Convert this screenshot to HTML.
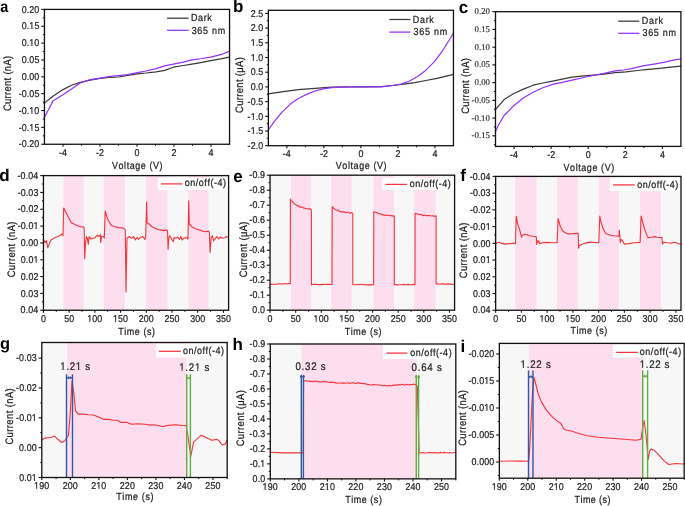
<!DOCTYPE html>
<html><head><meta charset="utf-8"><title>figure</title>
<style>html,body{margin:0;padding:0;background:#fff;overflow:hidden;} svg{display:block;will-change:transform;filter:blur(0.3px);} text{white-space:pre;text-rendering:geometricPrecision;font-kerning:none;font-variant-ligatures:none;}</style>
</head><body>
<svg width="685" height="506" viewBox="0 0 685 506">
<defs><mask id="m0" maskUnits="userSpaceOnUse" x="-20" y="-30" width="59.7" height="50"><rect x="-20" y="-30" width="59.7" height="50" fill="#fff"/><rect x="8.33" y="-1.04" width="2.58" height="2.04" fill="#000"/><rect x="11.90" y="-1.04" width="2.50" height="2.04" fill="#000"/></mask><mask id="m1" maskUnits="userSpaceOnUse" x="-20" y="-30" width="59.7" height="50"><rect x="-20" y="-30" width="59.7" height="50" fill="#fff"/><rect x="8.33" y="-1.04" width="2.58" height="2.04" fill="#000"/><rect x="11.90" y="-1.04" width="2.50" height="2.04" fill="#000"/></mask><mask id="m2" maskUnits="userSpaceOnUse" x="-20" y="-30" width="63.1" height="50"><rect x="-20" y="-30" width="63.1" height="50" fill="#fff"/><rect x="11.74" y="-1.04" width="2.58" height="2.04" fill="#000"/><rect x="15.31" y="-1.04" width="2.50" height="2.04" fill="#000"/></mask><mask id="m3" maskUnits="userSpaceOnUse" x="-20" y="-30" width="63.1" height="50"><rect x="-20" y="-30" width="63.1" height="50" fill="#fff"/><rect x="11.74" y="-1.04" width="2.58" height="2.04" fill="#000"/><rect x="15.31" y="-1.04" width="2.50" height="2.04" fill="#000"/></mask><mask id="m4" maskUnits="userSpaceOnUse" x="-20" y="-30" width="57.5" height="50"><rect x="-20" y="-30" width="57.5" height="50" fill="#fff"/><rect x="3.26" y="-1.04" width="2.58" height="2.04" fill="#000"/><rect x="6.83" y="-1.04" width="2.50" height="2.04" fill="#000"/></mask><mask id="m5" maskUnits="userSpaceOnUse" x="-20" y="-30" width="57.5" height="50"><rect x="-20" y="-30" width="57.5" height="50" fill="#fff"/><rect x="3.26" y="-1.04" width="2.58" height="2.04" fill="#000"/><rect x="6.83" y="-1.04" width="2.50" height="2.04" fill="#000"/></mask><mask id="m6" maskUnits="userSpaceOnUse" x="-20" y="-30" width="54.1" height="50"><rect x="-20" y="-30" width="54.1" height="50" fill="#fff"/><rect x="-0.15" y="-1.04" width="2.58" height="2.04" fill="#000"/><rect x="3.42" y="-1.04" width="2.50" height="2.04" fill="#000"/></mask><mask id="m7" maskUnits="userSpaceOnUse" x="-20" y="-30" width="54.1" height="50"><rect x="-20" y="-30" width="54.1" height="50" fill="#fff"/><rect x="-0.15" y="-1.04" width="2.58" height="2.04" fill="#000"/><rect x="3.42" y="-1.04" width="2.50" height="2.04" fill="#000"/></mask><mask id="m8" maskUnits="userSpaceOnUse" x="-20" y="-30" width="63.1" height="50"><rect x="-20" y="-30" width="63.1" height="50" fill="#fff"/><rect x="17.36" y="-1.04" width="2.58" height="2.04" fill="#000"/><rect x="20.93" y="-1.04" width="2.50" height="2.04" fill="#000"/></mask><mask id="m9" maskUnits="userSpaceOnUse" x="-20" y="-30" width="59.7" height="50"><rect x="-20" y="-30" width="59.7" height="50" fill="#fff"/><rect x="13.95" y="-1.04" width="2.58" height="2.04" fill="#000"/><rect x="17.52" y="-1.04" width="2.50" height="2.04" fill="#000"/></mask><mask id="m10" maskUnits="userSpaceOnUse" x="-20" y="-30" width="56.9" height="50"><rect x="-20" y="-30" width="56.9" height="50" fill="#fff"/><rect x="-0.15" y="-1.04" width="2.58" height="2.04" fill="#000"/><rect x="3.42" y="-1.04" width="2.50" height="2.04" fill="#000"/></mask><mask id="m11" maskUnits="userSpaceOnUse" x="-20" y="-30" width="56.9" height="50"><rect x="-20" y="-30" width="56.9" height="50" fill="#fff"/><rect x="-0.15" y="-1.04" width="2.58" height="2.04" fill="#000"/><rect x="3.42" y="-1.04" width="2.50" height="2.04" fill="#000"/></mask><mask id="m12" maskUnits="userSpaceOnUse" x="-20" y="-30" width="57.5" height="50"><rect x="-20" y="-30" width="57.5" height="50" fill="#fff"/><rect x="11.74" y="-1.04" width="2.58" height="2.04" fill="#000"/><rect x="15.31" y="-1.04" width="2.50" height="2.04" fill="#000"/></mask><mask id="m13" maskUnits="userSpaceOnUse" x="-20" y="-30" width="56.9" height="50"><rect x="-20" y="-30" width="56.9" height="50" fill="#fff"/><rect x="-0.15" y="-1.04" width="2.58" height="2.04" fill="#000"/><rect x="3.42" y="-1.04" width="2.50" height="2.04" fill="#000"/></mask><mask id="m14" maskUnits="userSpaceOnUse" x="-20" y="-30" width="56.9" height="50"><rect x="-20" y="-30" width="56.9" height="50" fill="#fff"/><rect x="-0.15" y="-1.04" width="2.58" height="2.04" fill="#000"/><rect x="3.42" y="-1.04" width="2.50" height="2.04" fill="#000"/></mask><mask id="m15" maskUnits="userSpaceOnUse" x="-20" y="-30" width="63.1" height="50"><rect x="-20" y="-30" width="63.1" height="50" fill="#fff"/><rect x="17.36" y="-1.04" width="2.58" height="2.04" fill="#000"/><rect x="20.93" y="-1.04" width="2.50" height="2.04" fill="#000"/></mask><mask id="m16" maskUnits="userSpaceOnUse" x="-20" y="-30" width="59.7" height="50"><rect x="-20" y="-30" width="59.7" height="50" fill="#fff"/><rect x="13.95" y="-1.04" width="2.58" height="2.04" fill="#000"/><rect x="17.52" y="-1.04" width="2.50" height="2.04" fill="#000"/></mask><mask id="m17" maskUnits="userSpaceOnUse" x="-20" y="-30" width="56.9" height="50"><rect x="-20" y="-30" width="56.9" height="50" fill="#fff"/><rect x="-0.15" y="-1.04" width="2.58" height="2.04" fill="#000"/><rect x="3.42" y="-1.04" width="2.50" height="2.04" fill="#000"/></mask><mask id="m18" maskUnits="userSpaceOnUse" x="-20" y="-30" width="56.9" height="50"><rect x="-20" y="-30" width="56.9" height="50" fill="#fff"/><rect x="-0.15" y="-1.04" width="2.58" height="2.04" fill="#000"/><rect x="3.42" y="-1.04" width="2.50" height="2.04" fill="#000"/></mask><mask id="m19" maskUnits="userSpaceOnUse" x="-20" y="-30" width="59.7" height="50"><rect x="-20" y="-30" width="59.7" height="50" fill="#fff"/><rect x="13.95" y="-1.04" width="2.58" height="2.04" fill="#000"/><rect x="17.52" y="-1.04" width="2.50" height="2.04" fill="#000"/></mask><mask id="m20" maskUnits="userSpaceOnUse" x="-20" y="-30" width="63.1" height="50"><rect x="-20" y="-30" width="63.1" height="50" fill="#fff"/><rect x="17.36" y="-1.04" width="2.58" height="2.04" fill="#000"/><rect x="20.93" y="-1.04" width="2.50" height="2.04" fill="#000"/></mask><mask id="m21" maskUnits="userSpaceOnUse" x="-20" y="-30" width="56.9" height="50"><rect x="-20" y="-30" width="56.9" height="50" fill="#fff"/><rect x="-0.15" y="-1.04" width="2.58" height="2.04" fill="#000"/><rect x="3.42" y="-1.04" width="2.50" height="2.04" fill="#000"/></mask><mask id="m22" maskUnits="userSpaceOnUse" x="-20" y="-30" width="56.9" height="50"><rect x="-20" y="-30" width="56.9" height="50" fill="#fff"/><rect x="5.47" y="-1.04" width="2.58" height="2.04" fill="#000"/><rect x="9.04" y="-1.04" width="2.50" height="2.04" fill="#000"/></mask><mask id="m23" maskUnits="userSpaceOnUse" x="-20" y="-30" width="74.7" height="50"><rect x="-20" y="-30" width="74.7" height="50" fill="#fff"/><rect x="-0.06" y="-1.12" width="2.77" height="2.12" fill="#000"/><rect x="3.80" y="-1.12" width="2.68" height="2.12" fill="#000"/><rect x="17.60" y="-1.12" width="2.77" height="2.12" fill="#000"/><rect x="21.46" y="-1.12" width="2.68" height="2.12" fill="#000"/></mask><mask id="m24" maskUnits="userSpaceOnUse" x="-20" y="-30" width="75.0" height="50"><rect x="-20" y="-30" width="75.0" height="50" fill="#fff"/><rect x="-0.06" y="-1.12" width="2.77" height="2.12" fill="#000"/><rect x="3.80" y="-1.12" width="2.68" height="2.12" fill="#000"/><rect x="17.74" y="-1.12" width="2.77" height="2.12" fill="#000"/><rect x="21.60" y="-1.12" width="2.68" height="2.12" fill="#000"/></mask><mask id="m25" maskUnits="userSpaceOnUse" x="-20" y="-30" width="57.5" height="50"><rect x="-20" y="-30" width="57.5" height="50" fill="#fff"/><rect x="11.74" y="-1.04" width="2.58" height="2.04" fill="#000"/><rect x="15.31" y="-1.04" width="2.50" height="2.04" fill="#000"/></mask><mask id="m26" maskUnits="userSpaceOnUse" x="-20" y="-30" width="56.9" height="50"><rect x="-20" y="-30" width="56.9" height="50" fill="#fff"/><rect x="-0.15" y="-1.04" width="2.58" height="2.04" fill="#000"/><rect x="3.42" y="-1.04" width="2.50" height="2.04" fill="#000"/></mask><mask id="m27" maskUnits="userSpaceOnUse" x="-20" y="-30" width="56.9" height="50"><rect x="-20" y="-30" width="56.9" height="50" fill="#fff"/><rect x="5.47" y="-1.04" width="2.58" height="2.04" fill="#000"/><rect x="9.04" y="-1.04" width="2.50" height="2.04" fill="#000"/></mask><mask id="m28" maskUnits="userSpaceOnUse" x="-20" y="-30" width="68.7" height="50"><rect x="-20" y="-30" width="68.7" height="50" fill="#fff"/><rect x="17.36" y="-1.04" width="2.58" height="2.04" fill="#000"/><rect x="20.93" y="-1.04" width="2.50" height="2.04" fill="#000"/></mask><mask id="m29" maskUnits="userSpaceOnUse" x="-20" y="-30" width="68.7" height="50"><rect x="-20" y="-30" width="68.7" height="50" fill="#fff"/><rect x="17.36" y="-1.04" width="2.58" height="2.04" fill="#000"/><rect x="20.93" y="-1.04" width="2.50" height="2.04" fill="#000"/></mask><mask id="m30" maskUnits="userSpaceOnUse" x="-20" y="-30" width="56.9" height="50"><rect x="-20" y="-30" width="56.9" height="50" fill="#fff"/><rect x="-0.15" y="-1.04" width="2.58" height="2.04" fill="#000"/><rect x="3.42" y="-1.04" width="2.50" height="2.04" fill="#000"/></mask><mask id="m31" maskUnits="userSpaceOnUse" x="-20" y="-30" width="56.9" height="50"><rect x="-20" y="-30" width="56.9" height="50" fill="#fff"/><rect x="5.47" y="-1.04" width="2.58" height="2.04" fill="#000"/><rect x="9.04" y="-1.04" width="2.50" height="2.04" fill="#000"/></mask><mask id="m32" maskUnits="userSpaceOnUse" x="-20" y="-30" width="75.4" height="50"><rect x="-20" y="-30" width="75.4" height="50" fill="#fff"/><rect x="-0.06" y="-1.12" width="2.77" height="2.12" fill="#000"/><rect x="3.80" y="-1.12" width="2.68" height="2.12" fill="#000"/></mask><mask id="m33" maskUnits="userSpaceOnUse" x="-20" y="-30" width="74.2" height="50"><rect x="-20" y="-30" width="74.2" height="50" fill="#fff"/><rect x="-0.06" y="-1.12" width="2.77" height="2.12" fill="#000"/><rect x="3.80" y="-1.12" width="2.68" height="2.12" fill="#000"/></mask></defs>
<rect width="685" height="506" fill="#fff"/>
<line x1="41.25" y1="9.40" x2="44.45" y2="9.40" stroke="#111111" stroke-width="1.1"/>
<line x1="41.25" y1="26.26" x2="44.45" y2="26.26" stroke="#111111" stroke-width="1.1"/>
<line x1="41.25" y1="43.11" x2="44.45" y2="43.11" stroke="#111111" stroke-width="1.1"/>
<line x1="41.25" y1="59.97" x2="44.45" y2="59.97" stroke="#111111" stroke-width="1.1"/>
<line x1="41.25" y1="76.83" x2="44.45" y2="76.83" stroke="#111111" stroke-width="1.1"/>
<line x1="41.25" y1="93.68" x2="44.45" y2="93.68" stroke="#111111" stroke-width="1.1"/>
<line x1="41.25" y1="110.54" x2="44.45" y2="110.54" stroke="#111111" stroke-width="1.1"/>
<line x1="41.25" y1="127.39" x2="44.45" y2="127.39" stroke="#111111" stroke-width="1.1"/>
<line x1="41.25" y1="144.25" x2="44.45" y2="144.25" stroke="#111111" stroke-width="1.1"/>
<line x1="42.85" y1="17.83" x2="44.45" y2="17.83" stroke="#111111" stroke-width="1.0"/>
<line x1="42.85" y1="34.68" x2="44.45" y2="34.68" stroke="#111111" stroke-width="1.0"/>
<line x1="42.85" y1="51.54" x2="44.45" y2="51.54" stroke="#111111" stroke-width="1.0"/>
<line x1="42.85" y1="68.40" x2="44.45" y2="68.40" stroke="#111111" stroke-width="1.0"/>
<line x1="42.85" y1="85.25" x2="44.45" y2="85.25" stroke="#111111" stroke-width="1.0"/>
<line x1="42.85" y1="102.11" x2="44.45" y2="102.11" stroke="#111111" stroke-width="1.0"/>
<line x1="42.85" y1="118.97" x2="44.45" y2="118.97" stroke="#111111" stroke-width="1.0"/>
<line x1="42.85" y1="135.82" x2="44.45" y2="135.82" stroke="#111111" stroke-width="1.0"/>
<text transform="translate(21.71,12.61) scale(0.900,1)" font-family='"Liberation Sans", sans-serif' font-size="9.9" font-weight="normal" fill="#1a1a1a" stroke="#1a1a1a" stroke-width="0.22" letter-spacing="0.111">0.20</text>
<text transform="translate(21.73,29.46) scale(0.900,1)" font-family='"Liberation Sans", sans-serif' font-size="9.9" font-weight="normal" fill="#1a1a1a" stroke="#1a1a1a" stroke-width="0.22" letter-spacing="0.111" mask="url(#m0)">0.15</text>
<text transform="translate(21.71,46.32) scale(0.900,1)" font-family='"Liberation Sans", sans-serif' font-size="9.9" font-weight="normal" fill="#1a1a1a" stroke="#1a1a1a" stroke-width="0.22" letter-spacing="0.111" mask="url(#m1)">0.10</text>
<text transform="translate(21.73,63.17) scale(0.900,1)" font-family='"Liberation Sans", sans-serif' font-size="9.9" font-weight="normal" fill="#1a1a1a" stroke="#1a1a1a" stroke-width="0.22" letter-spacing="0.111">0.05</text>
<text transform="translate(21.71,80.03) scale(0.900,1)" font-family='"Liberation Sans", sans-serif' font-size="9.9" font-weight="normal" fill="#1a1a1a" stroke="#1a1a1a" stroke-width="0.22" letter-spacing="0.111">0.00</text>
<text transform="translate(18.67,96.89) scale(0.900,1)" font-family='"Liberation Sans", sans-serif' font-size="9.9" font-weight="normal" fill="#1a1a1a" stroke="#1a1a1a" stroke-width="0.22" letter-spacing="0.111">-0.05</text>
<text transform="translate(18.64,113.74) scale(0.900,1)" font-family='"Liberation Sans", sans-serif' font-size="9.9" font-weight="normal" fill="#1a1a1a" stroke="#1a1a1a" stroke-width="0.22" letter-spacing="0.111" mask="url(#m2)">-0.10</text>
<text transform="translate(18.67,130.60) scale(0.900,1)" font-family='"Liberation Sans", sans-serif' font-size="9.9" font-weight="normal" fill="#1a1a1a" stroke="#1a1a1a" stroke-width="0.22" letter-spacing="0.111" mask="url(#m3)">-0.15</text>
<text transform="translate(18.64,147.46) scale(0.900,1)" font-family='"Liberation Sans", sans-serif' font-size="9.9" font-weight="normal" fill="#1a1a1a" stroke="#1a1a1a" stroke-width="0.22" letter-spacing="0.111">-0.20</text>
<line x1="62.96" y1="144.25" x2="62.96" y2="146.85" stroke="#111111" stroke-width="1.1"/>
<line x1="99.98" y1="144.25" x2="99.98" y2="146.85" stroke="#111111" stroke-width="1.1"/>
<line x1="137.00" y1="144.25" x2="137.00" y2="146.85" stroke="#111111" stroke-width="1.1"/>
<line x1="174.02" y1="144.25" x2="174.02" y2="146.85" stroke="#111111" stroke-width="1.1"/>
<line x1="211.04" y1="144.25" x2="211.04" y2="146.85" stroke="#111111" stroke-width="1.1"/>
<line x1="81.47" y1="144.25" x2="81.47" y2="145.85" stroke="#111111" stroke-width="1.0"/>
<line x1="118.49" y1="144.25" x2="118.49" y2="145.85" stroke="#111111" stroke-width="1.0"/>
<line x1="155.51" y1="144.25" x2="155.51" y2="145.85" stroke="#111111" stroke-width="1.0"/>
<line x1="192.53" y1="144.25" x2="192.53" y2="145.85" stroke="#111111" stroke-width="1.0"/>
<text transform="translate(58.88,155.70) scale(0.900,1)" font-family='"Liberation Sans", sans-serif' font-size="9.9" font-weight="normal" fill="#1a1a1a" stroke="#1a1a1a" stroke-width="0.22" letter-spacing="0.111">-4</text>
<text transform="translate(95.99,155.70) scale(0.900,1)" font-family='"Liberation Sans", sans-serif' font-size="9.9" font-weight="normal" fill="#1a1a1a" stroke="#1a1a1a" stroke-width="0.22" letter-spacing="0.111">-2</text>
<text transform="translate(134.52,155.70) scale(0.900,1)" font-family='"Liberation Sans", sans-serif' font-size="9.9" font-weight="normal" fill="#1a1a1a" stroke="#1a1a1a" stroke-width="0.22" letter-spacing="0.111">0</text>
<text transform="translate(171.54,155.70) scale(0.900,1)" font-family='"Liberation Sans", sans-serif' font-size="9.9" font-weight="normal" fill="#1a1a1a" stroke="#1a1a1a" stroke-width="0.22" letter-spacing="0.111">2</text>
<text transform="translate(208.59,155.70) scale(0.900,1)" font-family='"Liberation Sans", sans-serif' font-size="9.9" font-weight="normal" fill="#1a1a1a" stroke="#1a1a1a" stroke-width="0.22" letter-spacing="0.111">4</text>
<polyline points="44.00,103.40 52.90,96.20 63.00,89.60 71.50,85.30 80.10,82.40 90.20,80.10 100.20,78.40 108.80,77.30 118.90,77.00 127.50,75.30 137.50,73.80 146.10,73.00 156.10,71.80 164.70,70.40 173.40,67.20 183.40,65.50 192.00,64.10 202.00,62.40 210.60,60.60 220.70,58.90 229.30,57.20" fill="none" stroke="#383838" stroke-width="1.2" stroke-linejoin="round" stroke-linecap="round"/>
<polyline points="44.00,118.30 52.90,101.10 63.00,94.80 71.50,89.00 80.10,83.00 90.20,79.60 100.20,78.10 108.80,76.70 118.90,75.70 127.50,74.70 137.50,72.60 146.10,71.00 156.10,68.60 164.70,65.90 173.40,64.20 183.40,62.20 192.00,59.80 202.00,58.50 210.60,57.10 220.70,54.70 229.30,51.40" fill="none" stroke="#9430ff" stroke-width="1.2" stroke-linejoin="round" stroke-linecap="round"/>
<rect x="44.45" y="9.40" width="185.10" height="134.85" fill="none" stroke="#111111" stroke-width="1.3"/>
<line x1="167.10" y1="18.20" x2="188.60" y2="18.20" stroke="#383838" stroke-width="1.25"/>
<line x1="167.10" y1="30.30" x2="188.60" y2="30.30" stroke="#9430ff" stroke-width="1.25"/>
<text transform="translate(190.88,20.60) scale(0.880,1)" font-family='"Liberation Sans", sans-serif' font-size="10.2" font-weight="normal" fill="#1a1a1a" stroke="#1a1a1a" stroke-width="0.22" letter-spacing="0.732">Dark</text>
<text transform="translate(191.63,33.90) scale(0.880,1)" font-family='"Liberation Sans", sans-serif' font-size="10.2" font-weight="normal" fill="#1a1a1a" stroke="#1a1a1a" stroke-width="0.22" letter-spacing="0.831">365 nm</text>
<text transform="translate(111.93,168.60) scale(0.870,1)" font-family='"Liberation Sans", sans-serif' font-size="10.3" font-weight="normal" fill="#1a1a1a" stroke="#1a1a1a" stroke-width="0.22" letter-spacing="0.670">Voltage (V)</text>
<text transform="translate(10.70,111.11) rotate(-90) scale(0.870,1)" font-family='"Liberation Sans", sans-serif' font-size="10.8" fill="#1a1a1a" stroke="#1a1a1a" stroke-width="0.22" letter-spacing="0.369">Current (nA)</text>
<text transform="translate(0.18,12.30) scale(0.900,1)" font-family='"Liberation Sans", sans-serif' font-size="16.0" font-weight="bold" fill="#000">a</text>
<line x1="265.15" y1="145.70" x2="268.35" y2="145.70" stroke="#111111" stroke-width="1.1"/>
<line x1="265.15" y1="131.00" x2="268.35" y2="131.00" stroke="#111111" stroke-width="1.1"/>
<line x1="265.15" y1="116.30" x2="268.35" y2="116.30" stroke="#111111" stroke-width="1.1"/>
<line x1="265.15" y1="101.60" x2="268.35" y2="101.60" stroke="#111111" stroke-width="1.1"/>
<line x1="265.15" y1="86.90" x2="268.35" y2="86.90" stroke="#111111" stroke-width="1.1"/>
<line x1="265.15" y1="72.20" x2="268.35" y2="72.20" stroke="#111111" stroke-width="1.1"/>
<line x1="265.15" y1="57.50" x2="268.35" y2="57.50" stroke="#111111" stroke-width="1.1"/>
<line x1="265.15" y1="42.80" x2="268.35" y2="42.80" stroke="#111111" stroke-width="1.1"/>
<line x1="265.15" y1="28.10" x2="268.35" y2="28.10" stroke="#111111" stroke-width="1.1"/>
<line x1="265.15" y1="13.40" x2="268.35" y2="13.40" stroke="#111111" stroke-width="1.1"/>
<line x1="266.75" y1="138.35" x2="268.35" y2="138.35" stroke="#111111" stroke-width="1.0"/>
<line x1="266.75" y1="123.65" x2="268.35" y2="123.65" stroke="#111111" stroke-width="1.0"/>
<line x1="266.75" y1="108.95" x2="268.35" y2="108.95" stroke="#111111" stroke-width="1.0"/>
<line x1="266.75" y1="94.25" x2="268.35" y2="94.25" stroke="#111111" stroke-width="1.0"/>
<line x1="266.75" y1="79.55" x2="268.35" y2="79.55" stroke="#111111" stroke-width="1.0"/>
<line x1="266.75" y1="64.85" x2="268.35" y2="64.85" stroke="#111111" stroke-width="1.0"/>
<line x1="266.75" y1="50.15" x2="268.35" y2="50.15" stroke="#111111" stroke-width="1.0"/>
<line x1="266.75" y1="35.45" x2="268.35" y2="35.45" stroke="#111111" stroke-width="1.0"/>
<line x1="266.75" y1="20.75" x2="268.35" y2="20.75" stroke="#111111" stroke-width="1.0"/>
<text transform="translate(247.59,148.91) scale(0.900,1)" font-family='"Liberation Sans", sans-serif' font-size="9.9" font-weight="normal" fill="#1a1a1a" stroke="#1a1a1a" stroke-width="0.22" letter-spacing="0.111">-2.0</text>
<text transform="translate(247.62,134.21) scale(0.900,1)" font-family='"Liberation Sans", sans-serif' font-size="9.9" font-weight="normal" fill="#1a1a1a" stroke="#1a1a1a" stroke-width="0.22" letter-spacing="0.111" mask="url(#m4)">-1.5</text>
<text transform="translate(247.59,119.51) scale(0.900,1)" font-family='"Liberation Sans", sans-serif' font-size="9.9" font-weight="normal" fill="#1a1a1a" stroke="#1a1a1a" stroke-width="0.22" letter-spacing="0.111" mask="url(#m5)">-1.0</text>
<text transform="translate(247.62,104.81) scale(0.900,1)" font-family='"Liberation Sans", sans-serif' font-size="9.9" font-weight="normal" fill="#1a1a1a" stroke="#1a1a1a" stroke-width="0.22" letter-spacing="0.111">-0.5</text>
<text transform="translate(250.66,90.11) scale(0.900,1)" font-family='"Liberation Sans", sans-serif' font-size="9.9" font-weight="normal" fill="#1a1a1a" stroke="#1a1a1a" stroke-width="0.22" letter-spacing="0.111">0.0</text>
<text transform="translate(250.69,75.41) scale(0.900,1)" font-family='"Liberation Sans", sans-serif' font-size="9.9" font-weight="normal" fill="#1a1a1a" stroke="#1a1a1a" stroke-width="0.22" letter-spacing="0.111">0.5</text>
<text transform="translate(250.66,60.71) scale(0.900,1)" font-family='"Liberation Sans", sans-serif' font-size="9.9" font-weight="normal" fill="#1a1a1a" stroke="#1a1a1a" stroke-width="0.22" letter-spacing="0.111" mask="url(#m6)">1.0</text>
<text transform="translate(250.69,46.01) scale(0.900,1)" font-family='"Liberation Sans", sans-serif' font-size="9.9" font-weight="normal" fill="#1a1a1a" stroke="#1a1a1a" stroke-width="0.22" letter-spacing="0.111" mask="url(#m7)">1.5</text>
<text transform="translate(250.66,31.31) scale(0.900,1)" font-family='"Liberation Sans", sans-serif' font-size="9.9" font-weight="normal" fill="#1a1a1a" stroke="#1a1a1a" stroke-width="0.22" letter-spacing="0.111">2.0</text>
<text transform="translate(250.69,16.61) scale(0.900,1)" font-family='"Liberation Sans", sans-serif' font-size="9.9" font-weight="normal" fill="#1a1a1a" stroke="#1a1a1a" stroke-width="0.22" letter-spacing="0.111">2.5</text>
<line x1="286.86" y1="145.70" x2="286.86" y2="148.30" stroke="#111111" stroke-width="1.1"/>
<line x1="323.88" y1="145.70" x2="323.88" y2="148.30" stroke="#111111" stroke-width="1.1"/>
<line x1="360.90" y1="145.70" x2="360.90" y2="148.30" stroke="#111111" stroke-width="1.1"/>
<line x1="397.92" y1="145.70" x2="397.92" y2="148.30" stroke="#111111" stroke-width="1.1"/>
<line x1="434.94" y1="145.70" x2="434.94" y2="148.30" stroke="#111111" stroke-width="1.1"/>
<line x1="305.37" y1="145.70" x2="305.37" y2="147.30" stroke="#111111" stroke-width="1.0"/>
<line x1="342.39" y1="145.70" x2="342.39" y2="147.30" stroke="#111111" stroke-width="1.0"/>
<line x1="379.41" y1="145.70" x2="379.41" y2="147.30" stroke="#111111" stroke-width="1.0"/>
<line x1="416.43" y1="145.70" x2="416.43" y2="147.30" stroke="#111111" stroke-width="1.0"/>
<text transform="translate(282.78,157.15) scale(0.900,1)" font-family='"Liberation Sans", sans-serif' font-size="9.9" font-weight="normal" fill="#1a1a1a" stroke="#1a1a1a" stroke-width="0.22" letter-spacing="0.111">-4</text>
<text transform="translate(319.89,157.15) scale(0.900,1)" font-family='"Liberation Sans", sans-serif' font-size="9.9" font-weight="normal" fill="#1a1a1a" stroke="#1a1a1a" stroke-width="0.22" letter-spacing="0.111">-2</text>
<text transform="translate(358.42,157.15) scale(0.900,1)" font-family='"Liberation Sans", sans-serif' font-size="9.9" font-weight="normal" fill="#1a1a1a" stroke="#1a1a1a" stroke-width="0.22" letter-spacing="0.111">0</text>
<text transform="translate(395.44,157.15) scale(0.900,1)" font-family='"Liberation Sans", sans-serif' font-size="9.9" font-weight="normal" fill="#1a1a1a" stroke="#1a1a1a" stroke-width="0.22" letter-spacing="0.111">2</text>
<text transform="translate(432.49,157.15) scale(0.900,1)" font-family='"Liberation Sans", sans-serif' font-size="9.9" font-weight="normal" fill="#1a1a1a" stroke="#1a1a1a" stroke-width="0.22" letter-spacing="0.111">4</text>
<polyline points="268.30,93.80 281.60,91.90 298.30,89.60 314.90,88.30 331.60,87.10 348.20,86.90 364.90,86.90 381.50,86.60 392.60,85.50 403.70,84.10 414.80,82.70 425.90,80.50 437.00,78.30 453.60,74.40" fill="none" stroke="#383838" stroke-width="1.2" stroke-linejoin="round" stroke-linecap="round"/>
<polyline points="268.30,130.00 273.30,122.90 281.60,112.70 290.00,104.30 298.30,98.50 306.60,94.40 314.90,91.00 323.30,88.80 331.60,87.70 348.20,86.90 364.90,86.90 381.50,86.90 392.60,85.50 400.90,84.10 409.20,81.30 417.60,76.60 425.90,70.20 434.20,61.90 442.50,50.80 449.50,39.70 453.60,32.80" fill="none" stroke="#9430ff" stroke-width="1.2" stroke-linejoin="round" stroke-linecap="round"/>
<rect x="268.35" y="10.30" width="185.10" height="135.40" fill="none" stroke="#111111" stroke-width="1.3"/>
<line x1="389.30" y1="19.50" x2="410.40" y2="19.50" stroke="#383838" stroke-width="1.25"/>
<line x1="389.30" y1="32.10" x2="410.40" y2="32.10" stroke="#9430ff" stroke-width="1.25"/>
<text transform="translate(412.83,22.60) scale(0.880,1)" font-family='"Liberation Sans", sans-serif' font-size="10.2" font-weight="normal" fill="#1a1a1a" stroke="#1a1a1a" stroke-width="0.22" letter-spacing="0.770">Dark</text>
<text transform="translate(413.53,34.60) scale(0.880,1)" font-family='"Liberation Sans", sans-serif' font-size="10.2" font-weight="normal" fill="#1a1a1a" stroke="#1a1a1a" stroke-width="0.22" letter-spacing="0.853">365 nm</text>
<text transform="translate(335.73,169.20) scale(0.870,1)" font-family='"Liberation Sans", sans-serif' font-size="10.3" font-weight="normal" fill="#1a1a1a" stroke="#1a1a1a" stroke-width="0.22" letter-spacing="0.693">Voltage (V)</text>
<text transform="translate(243.10,112.91) rotate(-90) scale(0.870,1)" font-family='"Liberation Sans", sans-serif' font-size="10.8" fill="#1a1a1a" stroke="#1a1a1a" stroke-width="0.22" letter-spacing="0.401">Current (μA)</text>
<text x="232.88" y="12.15" font-family='"Liberation Sans", sans-serif' font-size="17.0" font-weight="bold" fill="#000">b</text>
<line x1="492.30" y1="11.70" x2="495.50" y2="11.70" stroke="#111111" stroke-width="1.1"/>
<line x1="492.30" y1="29.43" x2="495.50" y2="29.43" stroke="#111111" stroke-width="1.1"/>
<line x1="492.30" y1="47.16" x2="495.50" y2="47.16" stroke="#111111" stroke-width="1.1"/>
<line x1="492.30" y1="64.89" x2="495.50" y2="64.89" stroke="#111111" stroke-width="1.1"/>
<line x1="492.30" y1="82.62" x2="495.50" y2="82.62" stroke="#111111" stroke-width="1.1"/>
<line x1="492.30" y1="100.35" x2="495.50" y2="100.35" stroke="#111111" stroke-width="1.1"/>
<line x1="492.30" y1="118.08" x2="495.50" y2="118.08" stroke="#111111" stroke-width="1.1"/>
<line x1="492.30" y1="135.81" x2="495.50" y2="135.81" stroke="#111111" stroke-width="1.1"/>
<line x1="493.90" y1="20.56" x2="495.50" y2="20.56" stroke="#111111" stroke-width="1.0"/>
<line x1="493.90" y1="38.30" x2="495.50" y2="38.30" stroke="#111111" stroke-width="1.0"/>
<line x1="493.90" y1="56.03" x2="495.50" y2="56.03" stroke="#111111" stroke-width="1.0"/>
<line x1="493.90" y1="73.75" x2="495.50" y2="73.75" stroke="#111111" stroke-width="1.0"/>
<line x1="493.90" y1="91.48" x2="495.50" y2="91.48" stroke="#111111" stroke-width="1.0"/>
<line x1="493.90" y1="109.22" x2="495.50" y2="109.22" stroke="#111111" stroke-width="1.0"/>
<line x1="493.90" y1="126.95" x2="495.50" y2="126.95" stroke="#111111" stroke-width="1.0"/>
<line x1="493.90" y1="144.67" x2="495.50" y2="144.67" stroke="#111111" stroke-width="1.0"/>
<text x="474.54" y="14.22" font-family='"Liberation Serif", serif' font-size="8.8" font-weight="normal" fill="#1a1a1a" stroke="#1a1a1a" stroke-width="0.12">0.20</text>
<text x="474.54" y="31.95" font-family='"Liberation Serif", serif' font-size="8.8" font-weight="normal" fill="#1a1a1a" stroke="#1a1a1a" stroke-width="0.12">0.15</text>
<text x="474.54" y="49.68" font-family='"Liberation Serif", serif' font-size="8.8" font-weight="normal" fill="#1a1a1a" stroke="#1a1a1a" stroke-width="0.12">0.10</text>
<text x="474.54" y="67.41" font-family='"Liberation Serif", serif' font-size="8.8" font-weight="normal" fill="#1a1a1a" stroke="#1a1a1a" stroke-width="0.12">0.05</text>
<text x="474.54" y="85.14" font-family='"Liberation Serif", serif' font-size="8.8" font-weight="normal" fill="#1a1a1a" stroke="#1a1a1a" stroke-width="0.12">0.00</text>
<text x="471.61" y="102.87" font-family='"Liberation Serif", serif' font-size="8.8" font-weight="normal" fill="#1a1a1a" stroke="#1a1a1a" stroke-width="0.12">-0.05</text>
<text x="471.60" y="120.60" font-family='"Liberation Serif", serif' font-size="8.8" font-weight="normal" fill="#1a1a1a" stroke="#1a1a1a" stroke-width="0.12">-0.10</text>
<text x="471.61" y="138.33" font-family='"Liberation Serif", serif' font-size="8.8" font-weight="normal" fill="#1a1a1a" stroke="#1a1a1a" stroke-width="0.12">-0.15</text>
<line x1="514.04" y1="146.40" x2="514.04" y2="149.00" stroke="#111111" stroke-width="1.1"/>
<line x1="551.12" y1="146.40" x2="551.12" y2="149.00" stroke="#111111" stroke-width="1.1"/>
<line x1="588.20" y1="146.40" x2="588.20" y2="149.00" stroke="#111111" stroke-width="1.1"/>
<line x1="625.28" y1="146.40" x2="625.28" y2="149.00" stroke="#111111" stroke-width="1.1"/>
<line x1="662.36" y1="146.40" x2="662.36" y2="149.00" stroke="#111111" stroke-width="1.1"/>
<line x1="532.58" y1="146.40" x2="532.58" y2="148.00" stroke="#111111" stroke-width="1.0"/>
<line x1="569.66" y1="146.40" x2="569.66" y2="148.00" stroke="#111111" stroke-width="1.0"/>
<line x1="606.74" y1="146.40" x2="606.74" y2="148.00" stroke="#111111" stroke-width="1.0"/>
<line x1="643.82" y1="146.40" x2="643.82" y2="148.00" stroke="#111111" stroke-width="1.0"/>
<text transform="translate(509.96,157.85) scale(0.900,1)" font-family='"Liberation Sans", sans-serif' font-size="9.9" font-weight="normal" fill="#1a1a1a" stroke="#1a1a1a" stroke-width="0.22" letter-spacing="0.111">-4</text>
<text transform="translate(547.13,157.85) scale(0.900,1)" font-family='"Liberation Sans", sans-serif' font-size="9.9" font-weight="normal" fill="#1a1a1a" stroke="#1a1a1a" stroke-width="0.22" letter-spacing="0.111">-2</text>
<text transform="translate(585.72,157.85) scale(0.900,1)" font-family='"Liberation Sans", sans-serif' font-size="9.9" font-weight="normal" fill="#1a1a1a" stroke="#1a1a1a" stroke-width="0.22" letter-spacing="0.111">0</text>
<text transform="translate(622.80,157.85) scale(0.900,1)" font-family='"Liberation Sans", sans-serif' font-size="9.9" font-weight="normal" fill="#1a1a1a" stroke="#1a1a1a" stroke-width="0.22" letter-spacing="0.111">2</text>
<text transform="translate(659.91,157.85) scale(0.900,1)" font-family='"Liberation Sans", sans-serif' font-size="9.9" font-weight="normal" fill="#1a1a1a" stroke="#1a1a1a" stroke-width="0.22" letter-spacing="0.111">4</text>
<polyline points="495.20,109.90 504.10,99.60 513.80,93.50 523.50,89.10 533.20,85.20 542.90,83.00 552.60,81.10 562.30,79.10 572.10,77.20 581.80,76.10 592.90,75.20 604.00,74.10 615.10,72.70 626.10,71.90 637.20,70.50 648.30,69.40 659.40,68.30 670.50,67.20 680.80,66.10" fill="none" stroke="#383838" stroke-width="1.2" stroke-linejoin="round" stroke-linecap="round"/>
<polyline points="495.20,132.20 498.50,125.00 504.10,115.50 513.80,105.70 523.50,97.70 533.20,92.20 542.90,87.70 552.60,84.40 562.30,82.40 572.10,80.20 581.80,78.00 592.90,75.50 604.00,73.30 615.10,70.80 623.40,70.00 631.70,68.60 642.80,65.80 653.90,64.10 665.00,62.20 673.30,60.20 680.80,58.90" fill="none" stroke="#9430ff" stroke-width="1.2" stroke-linejoin="round" stroke-linecap="round"/>
<rect x="495.50" y="11.70" width="185.40" height="134.70" fill="none" stroke="#111111" stroke-width="1.3"/>
<line x1="618.20" y1="21.20" x2="639.30" y2="21.20" stroke="#383838" stroke-width="1.25"/>
<line x1="618.20" y1="33.30" x2="639.30" y2="33.30" stroke="#9430ff" stroke-width="1.25"/>
<text transform="translate(641.73,24.40) scale(0.880,1)" font-family='"Liberation Sans", sans-serif' font-size="10.2" font-weight="normal" fill="#1a1a1a" stroke="#1a1a1a" stroke-width="0.22" letter-spacing="0.845">Dark</text>
<text transform="translate(642.43,36.40) scale(0.880,1)" font-family='"Liberation Sans", sans-serif' font-size="10.2" font-weight="normal" fill="#1a1a1a" stroke="#1a1a1a" stroke-width="0.22" letter-spacing="0.808">365 nm</text>
<text transform="translate(563.53,170.70) scale(0.870,1)" font-family='"Liberation Sans", sans-serif' font-size="10.3" font-weight="normal" fill="#1a1a1a" stroke="#1a1a1a" stroke-width="0.22" letter-spacing="0.670">Voltage (V)</text>
<text transform="translate(468.90,113.81) rotate(-90) scale(0.870,1)" font-family='"Liberation Sans", sans-serif' font-size="10.8" fill="#1a1a1a" stroke="#1a1a1a" stroke-width="0.22" letter-spacing="0.421">Current (nA)</text>
<text x="458.84" y="12.50" font-family='"Liberation Sans", sans-serif' font-size="17.0" font-weight="bold" fill="#000">c</text>
<rect x="43.45" y="175.00" width="185.15" height="135.25" fill="#f7f7f7"/>
<rect x="63.40" y="175.00" width="20.30" height="135.25" fill="#fddeee"/>
<rect x="103.70" y="175.00" width="21.10" height="135.25" fill="#fddeee"/>
<rect x="146.00" y="175.00" width="21.40" height="135.25" fill="#fddeee"/>
<rect x="188.30" y="175.00" width="20.20" height="135.25" fill="#fddeee"/>
<line x1="40.25" y1="175.60" x2="43.45" y2="175.60" stroke="#111111" stroke-width="1.1"/>
<line x1="40.25" y1="192.43" x2="43.45" y2="192.43" stroke="#111111" stroke-width="1.1"/>
<line x1="40.25" y1="209.26" x2="43.45" y2="209.26" stroke="#111111" stroke-width="1.1"/>
<line x1="40.25" y1="226.09" x2="43.45" y2="226.09" stroke="#111111" stroke-width="1.1"/>
<line x1="40.25" y1="242.93" x2="43.45" y2="242.93" stroke="#111111" stroke-width="1.1"/>
<line x1="40.25" y1="259.76" x2="43.45" y2="259.76" stroke="#111111" stroke-width="1.1"/>
<line x1="40.25" y1="276.59" x2="43.45" y2="276.59" stroke="#111111" stroke-width="1.1"/>
<line x1="40.25" y1="293.42" x2="43.45" y2="293.42" stroke="#111111" stroke-width="1.1"/>
<line x1="40.25" y1="310.25" x2="43.45" y2="310.25" stroke="#111111" stroke-width="1.1"/>
<line x1="41.85" y1="184.02" x2="43.45" y2="184.02" stroke="#111111" stroke-width="1.0"/>
<line x1="41.85" y1="200.85" x2="43.45" y2="200.85" stroke="#111111" stroke-width="1.0"/>
<line x1="41.85" y1="217.68" x2="43.45" y2="217.68" stroke="#111111" stroke-width="1.0"/>
<line x1="41.85" y1="234.51" x2="43.45" y2="234.51" stroke="#111111" stroke-width="1.0"/>
<line x1="41.85" y1="251.34" x2="43.45" y2="251.34" stroke="#111111" stroke-width="1.0"/>
<line x1="41.85" y1="268.17" x2="43.45" y2="268.17" stroke="#111111" stroke-width="1.0"/>
<line x1="41.85" y1="285.00" x2="43.45" y2="285.00" stroke="#111111" stroke-width="1.0"/>
<line x1="41.85" y1="301.83" x2="43.45" y2="301.83" stroke="#111111" stroke-width="1.0"/>
<text transform="translate(17.55,178.81) scale(0.900,1)" font-family='"Liberation Sans", sans-serif' font-size="9.9" font-weight="normal" fill="#1a1a1a" stroke="#1a1a1a" stroke-width="0.22" letter-spacing="0.111">-0.04</text>
<text transform="translate(17.68,195.64) scale(0.900,1)" font-family='"Liberation Sans", sans-serif' font-size="9.9" font-weight="normal" fill="#1a1a1a" stroke="#1a1a1a" stroke-width="0.22" letter-spacing="0.111">-0.03</text>
<text transform="translate(17.74,212.47) scale(0.900,1)" font-family='"Liberation Sans", sans-serif' font-size="9.9" font-weight="normal" fill="#1a1a1a" stroke="#1a1a1a" stroke-width="0.22" letter-spacing="0.111">-0.02</text>
<text transform="translate(17.73,229.30) scale(0.900,1)" font-family='"Liberation Sans", sans-serif' font-size="9.9" font-weight="normal" fill="#1a1a1a" stroke="#1a1a1a" stroke-width="0.22" letter-spacing="0.111" mask="url(#m8)">-0.01</text>
<text transform="translate(20.71,246.13) scale(0.900,1)" font-family='"Liberation Sans", sans-serif' font-size="9.9" font-weight="normal" fill="#1a1a1a" stroke="#1a1a1a" stroke-width="0.22" letter-spacing="0.111">0.00</text>
<text transform="translate(20.79,262.96) scale(0.900,1)" font-family='"Liberation Sans", sans-serif' font-size="9.9" font-weight="normal" fill="#1a1a1a" stroke="#1a1a1a" stroke-width="0.22" letter-spacing="0.111" mask="url(#m9)">0.01</text>
<text transform="translate(20.81,279.79) scale(0.900,1)" font-family='"Liberation Sans", sans-serif' font-size="9.9" font-weight="normal" fill="#1a1a1a" stroke="#1a1a1a" stroke-width="0.22" letter-spacing="0.111">0.02</text>
<text transform="translate(20.75,296.62) scale(0.900,1)" font-family='"Liberation Sans", sans-serif' font-size="9.9" font-weight="normal" fill="#1a1a1a" stroke="#1a1a1a" stroke-width="0.22" letter-spacing="0.111">0.03</text>
<text transform="translate(20.62,313.46) scale(0.900,1)" font-family='"Liberation Sans", sans-serif' font-size="9.9" font-weight="normal" fill="#1a1a1a" stroke="#1a1a1a" stroke-width="0.22" letter-spacing="0.111">0.04</text>
<line x1="43.45" y1="310.25" x2="43.45" y2="312.85" stroke="#111111" stroke-width="1.1"/>
<line x1="69.17" y1="310.25" x2="69.17" y2="312.85" stroke="#111111" stroke-width="1.1"/>
<line x1="94.88" y1="310.25" x2="94.88" y2="312.85" stroke="#111111" stroke-width="1.1"/>
<line x1="120.60" y1="310.25" x2="120.60" y2="312.85" stroke="#111111" stroke-width="1.1"/>
<line x1="146.31" y1="310.25" x2="146.31" y2="312.85" stroke="#111111" stroke-width="1.1"/>
<line x1="172.03" y1="310.25" x2="172.03" y2="312.85" stroke="#111111" stroke-width="1.1"/>
<line x1="197.74" y1="310.25" x2="197.74" y2="312.85" stroke="#111111" stroke-width="1.1"/>
<line x1="223.46" y1="310.25" x2="223.46" y2="312.85" stroke="#111111" stroke-width="1.1"/>
<line x1="56.31" y1="310.25" x2="56.31" y2="311.85" stroke="#111111" stroke-width="1.0"/>
<line x1="82.02" y1="310.25" x2="82.02" y2="311.85" stroke="#111111" stroke-width="1.0"/>
<line x1="107.74" y1="310.25" x2="107.74" y2="311.85" stroke="#111111" stroke-width="1.0"/>
<line x1="133.45" y1="310.25" x2="133.45" y2="311.85" stroke="#111111" stroke-width="1.0"/>
<line x1="159.17" y1="310.25" x2="159.17" y2="311.85" stroke="#111111" stroke-width="1.0"/>
<line x1="184.88" y1="310.25" x2="184.88" y2="311.85" stroke="#111111" stroke-width="1.0"/>
<line x1="210.60" y1="310.25" x2="210.60" y2="311.85" stroke="#111111" stroke-width="1.0"/>
<text transform="translate(40.97,321.70) scale(0.900,1)" font-family='"Liberation Sans", sans-serif' font-size="9.9" font-weight="normal" fill="#1a1a1a" stroke="#1a1a1a" stroke-width="0.22" letter-spacing="0.111">0</text>
<text transform="translate(64.16,321.70) scale(0.900,1)" font-family='"Liberation Sans", sans-serif' font-size="9.9" font-weight="normal" fill="#1a1a1a" stroke="#1a1a1a" stroke-width="0.22" letter-spacing="0.111">50</text>
<text transform="translate(87.18,321.70) scale(0.900,1)" font-family='"Liberation Sans", sans-serif' font-size="9.9" font-weight="normal" fill="#1a1a1a" stroke="#1a1a1a" stroke-width="0.22" letter-spacing="0.111" mask="url(#m10)">100</text>
<text transform="translate(112.90,321.70) scale(0.900,1)" font-family='"Liberation Sans", sans-serif' font-size="9.9" font-weight="normal" fill="#1a1a1a" stroke="#1a1a1a" stroke-width="0.22" letter-spacing="0.111" mask="url(#m11)">150</text>
<text transform="translate(138.73,321.70) scale(0.900,1)" font-family='"Liberation Sans", sans-serif' font-size="9.9" font-weight="normal" fill="#1a1a1a" stroke="#1a1a1a" stroke-width="0.22" letter-spacing="0.111">200</text>
<text transform="translate(164.44,321.70) scale(0.900,1)" font-family='"Liberation Sans", sans-serif' font-size="9.9" font-weight="normal" fill="#1a1a1a" stroke="#1a1a1a" stroke-width="0.22" letter-spacing="0.111">250</text>
<text transform="translate(190.21,321.70) scale(0.900,1)" font-family='"Liberation Sans", sans-serif' font-size="9.9" font-weight="normal" fill="#1a1a1a" stroke="#1a1a1a" stroke-width="0.22" letter-spacing="0.111">300</text>
<text transform="translate(215.93,321.70) scale(0.900,1)" font-family='"Liberation Sans", sans-serif' font-size="9.9" font-weight="normal" fill="#1a1a1a" stroke="#1a1a1a" stroke-width="0.22" letter-spacing="0.111">350</text>
<polyline points="43.40,243.60 44.70,240.90 45.60,242.70 46.40,240.60 47.70,247.70 49.10,244.50 50.90,240.00 52.70,239.10 55.30,237.40 58.00,236.50 60.70,235.20 61.90,233.80 63.00,235.60 63.70,208.00 66.00,212.50 68.70,217.80 71.40,222.80 74.90,224.60 78.50,226.30 82.00,227.00 83.50,226.70 84.20,228.50 84.70,258.70 85.60,242.70 86.50,236.50 87.40,238.20 88.30,244.50 89.10,236.50 90.90,239.10 93.60,238.20 95.40,237.40 97.20,235.20 98.90,236.50 100.40,234.70 100.70,242.70 101.60,236.50 103.40,236.50 104.30,238.20 105.20,211.00 106.90,216.90 108.70,221.30 111.40,225.40 114.90,226.70 118.50,227.60 123.00,227.90 124.20,229.00 125.30,230.20 126.00,292.00 127.00,238.20 129.20,236.50 131.80,238.20 133.60,236.50 135.40,240.00 137.00,237.40 138.60,239.50 140.30,237.40 143.00,236.50 144.80,239.50 145.70,236.50 146.60,202.10 147.10,223.10 149.20,224.00 151.90,226.70 155.50,228.50 159.90,229.90 164.40,230.60 167.00,229.90 167.60,232.00 168.10,249.50 168.80,238.20 169.70,235.60 171.50,238.80 173.20,241.80 174.10,237.40 175.90,238.20 177.70,237.00 179.50,239.50 180.90,236.50 182.10,240.00 183.90,238.20 186.60,237.40 188.00,239.10 188.70,200.90 189.30,224.00 191.90,226.70 195.50,228.80 200.80,230.60 205.30,231.70 208.50,231.10 209.40,232.40 210.10,252.50 211.10,238.20 212.40,235.60 213.60,240.90 215.00,239.10 216.80,236.50 218.60,238.80 220.40,237.00 222.20,238.20 224.80,237.70 226.60,236.50 228.40,237.40" fill="none" stroke="#f5333a" stroke-width="1.1" stroke-linejoin="round" stroke-linecap="round"/>
<rect x="158.10" y="177.70" width="70.50" height="12.30" fill="#ffffff"/>
<line x1="161.20" y1="183.90" x2="182.50" y2="183.90" stroke="#f5333a" stroke-width="1.25"/>
<text transform="translate(184.79,186.20) scale(0.880,1)" font-family='"Liberation Sans", sans-serif' font-size="10.2" font-weight="normal" fill="#1a1a1a" stroke="#1a1a1a" stroke-width="0.22" letter-spacing="0.603">on/off(-4)</text>
<rect x="43.45" y="175.60" width="185.15" height="134.65" fill="none" stroke="#111111" stroke-width="1.3"/>
<text transform="translate(118.17,334.60) scale(0.870,1)" font-family='"Liberation Sans", sans-serif' font-size="10.3" font-weight="normal" fill="#1a1a1a" stroke="#1a1a1a" stroke-width="0.22" letter-spacing="0.651">Time (s)</text>
<text transform="translate(14.90,277.31) rotate(-90) scale(0.870,1)" font-family='"Liberation Sans", sans-serif' font-size="10.8" fill="#1a1a1a" stroke="#1a1a1a" stroke-width="0.22" letter-spacing="0.421">Current (nA)</text>
<text x="-0.66" y="180.80" font-family='"Liberation Sans", sans-serif' font-size="17.0" font-weight="bold" fill="#000">d</text>
<rect x="270.05" y="174.60" width="184.55" height="135.60" fill="#f7f7f7"/>
<rect x="290.90" y="174.60" width="20.00" height="135.60" fill="#fddeee"/>
<rect x="331.00" y="174.60" width="20.70" height="135.60" fill="#fddeee"/>
<rect x="373.50" y="174.60" width="20.80" height="135.60" fill="#fddeee"/>
<rect x="414.20" y="174.60" width="21.50" height="135.60" fill="#fddeee"/>
<line x1="266.85" y1="175.20" x2="270.05" y2="175.20" stroke="#111111" stroke-width="1.1"/>
<line x1="266.85" y1="190.20" x2="270.05" y2="190.20" stroke="#111111" stroke-width="1.1"/>
<line x1="266.85" y1="205.20" x2="270.05" y2="205.20" stroke="#111111" stroke-width="1.1"/>
<line x1="266.85" y1="220.20" x2="270.05" y2="220.20" stroke="#111111" stroke-width="1.1"/>
<line x1="266.85" y1="235.20" x2="270.05" y2="235.20" stroke="#111111" stroke-width="1.1"/>
<line x1="266.85" y1="250.20" x2="270.05" y2="250.20" stroke="#111111" stroke-width="1.1"/>
<line x1="266.85" y1="265.20" x2="270.05" y2="265.20" stroke="#111111" stroke-width="1.1"/>
<line x1="266.85" y1="280.20" x2="270.05" y2="280.20" stroke="#111111" stroke-width="1.1"/>
<line x1="266.85" y1="295.20" x2="270.05" y2="295.20" stroke="#111111" stroke-width="1.1"/>
<line x1="266.85" y1="310.20" x2="270.05" y2="310.20" stroke="#111111" stroke-width="1.1"/>
<line x1="268.45" y1="182.70" x2="270.05" y2="182.70" stroke="#111111" stroke-width="1.0"/>
<line x1="268.45" y1="197.70" x2="270.05" y2="197.70" stroke="#111111" stroke-width="1.0"/>
<line x1="268.45" y1="212.70" x2="270.05" y2="212.70" stroke="#111111" stroke-width="1.0"/>
<line x1="268.45" y1="227.70" x2="270.05" y2="227.70" stroke="#111111" stroke-width="1.0"/>
<line x1="268.45" y1="242.70" x2="270.05" y2="242.70" stroke="#111111" stroke-width="1.0"/>
<line x1="268.45" y1="257.70" x2="270.05" y2="257.70" stroke="#111111" stroke-width="1.0"/>
<line x1="268.45" y1="272.70" x2="270.05" y2="272.70" stroke="#111111" stroke-width="1.0"/>
<line x1="268.45" y1="287.70" x2="270.05" y2="287.70" stroke="#111111" stroke-width="1.0"/>
<line x1="268.45" y1="302.70" x2="270.05" y2="302.70" stroke="#111111" stroke-width="1.0"/>
<text transform="translate(249.37,178.41) scale(0.900,1)" font-family='"Liberation Sans", sans-serif' font-size="9.9" font-weight="normal" fill="#1a1a1a" stroke="#1a1a1a" stroke-width="0.22" letter-spacing="0.111">-0.9</text>
<text transform="translate(249.33,193.41) scale(0.900,1)" font-family='"Liberation Sans", sans-serif' font-size="9.9" font-weight="normal" fill="#1a1a1a" stroke="#1a1a1a" stroke-width="0.22" letter-spacing="0.111">-0.8</text>
<text transform="translate(249.39,208.41) scale(0.900,1)" font-family='"Liberation Sans", sans-serif' font-size="9.9" font-weight="normal" fill="#1a1a1a" stroke="#1a1a1a" stroke-width="0.22" letter-spacing="0.111">-0.7</text>
<text transform="translate(249.34,223.41) scale(0.900,1)" font-family='"Liberation Sans", sans-serif' font-size="9.9" font-weight="normal" fill="#1a1a1a" stroke="#1a1a1a" stroke-width="0.22" letter-spacing="0.111">-0.6</text>
<text transform="translate(249.32,238.41) scale(0.900,1)" font-family='"Liberation Sans", sans-serif' font-size="9.9" font-weight="normal" fill="#1a1a1a" stroke="#1a1a1a" stroke-width="0.22" letter-spacing="0.111">-0.5</text>
<text transform="translate(249.21,253.41) scale(0.900,1)" font-family='"Liberation Sans", sans-serif' font-size="9.9" font-weight="normal" fill="#1a1a1a" stroke="#1a1a1a" stroke-width="0.22" letter-spacing="0.111">-0.4</text>
<text transform="translate(249.34,268.41) scale(0.900,1)" font-family='"Liberation Sans", sans-serif' font-size="9.9" font-weight="normal" fill="#1a1a1a" stroke="#1a1a1a" stroke-width="0.22" letter-spacing="0.111">-0.3</text>
<text transform="translate(249.39,283.41) scale(0.900,1)" font-family='"Liberation Sans", sans-serif' font-size="9.9" font-weight="normal" fill="#1a1a1a" stroke="#1a1a1a" stroke-width="0.22" letter-spacing="0.111">-0.2</text>
<text transform="translate(249.38,298.41) scale(0.900,1)" font-family='"Liberation Sans", sans-serif' font-size="9.9" font-weight="normal" fill="#1a1a1a" stroke="#1a1a1a" stroke-width="0.22" letter-spacing="0.111" mask="url(#m12)">-0.1</text>
<text transform="translate(252.36,313.41) scale(0.900,1)" font-family='"Liberation Sans", sans-serif' font-size="9.9" font-weight="normal" fill="#1a1a1a" stroke="#1a1a1a" stroke-width="0.22" letter-spacing="0.111">0.0</text>
<line x1="270.05" y1="310.20" x2="270.05" y2="312.80" stroke="#111111" stroke-width="1.1"/>
<line x1="295.68" y1="310.20" x2="295.68" y2="312.80" stroke="#111111" stroke-width="1.1"/>
<line x1="321.31" y1="310.20" x2="321.31" y2="312.80" stroke="#111111" stroke-width="1.1"/>
<line x1="346.95" y1="310.20" x2="346.95" y2="312.80" stroke="#111111" stroke-width="1.1"/>
<line x1="372.58" y1="310.20" x2="372.58" y2="312.80" stroke="#111111" stroke-width="1.1"/>
<line x1="398.21" y1="310.20" x2="398.21" y2="312.80" stroke="#111111" stroke-width="1.1"/>
<line x1="423.84" y1="310.20" x2="423.84" y2="312.80" stroke="#111111" stroke-width="1.1"/>
<line x1="449.47" y1="310.20" x2="449.47" y2="312.80" stroke="#111111" stroke-width="1.1"/>
<line x1="282.87" y1="310.20" x2="282.87" y2="311.80" stroke="#111111" stroke-width="1.0"/>
<line x1="308.50" y1="310.20" x2="308.50" y2="311.80" stroke="#111111" stroke-width="1.0"/>
<line x1="334.13" y1="310.20" x2="334.13" y2="311.80" stroke="#111111" stroke-width="1.0"/>
<line x1="359.76" y1="310.20" x2="359.76" y2="311.80" stroke="#111111" stroke-width="1.0"/>
<line x1="385.39" y1="310.20" x2="385.39" y2="311.80" stroke="#111111" stroke-width="1.0"/>
<line x1="411.03" y1="310.20" x2="411.03" y2="311.80" stroke="#111111" stroke-width="1.0"/>
<line x1="436.66" y1="310.20" x2="436.66" y2="311.80" stroke="#111111" stroke-width="1.0"/>
<text transform="translate(267.57,321.65) scale(0.900,1)" font-family='"Liberation Sans", sans-serif' font-size="9.9" font-weight="normal" fill="#1a1a1a" stroke="#1a1a1a" stroke-width="0.22" letter-spacing="0.111">0</text>
<text transform="translate(290.67,321.65) scale(0.900,1)" font-family='"Liberation Sans", sans-serif' font-size="9.9" font-weight="normal" fill="#1a1a1a" stroke="#1a1a1a" stroke-width="0.22" letter-spacing="0.111">50</text>
<text transform="translate(313.62,321.65) scale(0.900,1)" font-family='"Liberation Sans", sans-serif' font-size="9.9" font-weight="normal" fill="#1a1a1a" stroke="#1a1a1a" stroke-width="0.22" letter-spacing="0.111" mask="url(#m13)">100</text>
<text transform="translate(339.25,321.65) scale(0.900,1)" font-family='"Liberation Sans", sans-serif' font-size="9.9" font-weight="normal" fill="#1a1a1a" stroke="#1a1a1a" stroke-width="0.22" letter-spacing="0.111" mask="url(#m14)">150</text>
<text transform="translate(364.99,321.65) scale(0.900,1)" font-family='"Liberation Sans", sans-serif' font-size="9.9" font-weight="normal" fill="#1a1a1a" stroke="#1a1a1a" stroke-width="0.22" letter-spacing="0.111">200</text>
<text transform="translate(390.63,321.65) scale(0.900,1)" font-family='"Liberation Sans", sans-serif' font-size="9.9" font-weight="normal" fill="#1a1a1a" stroke="#1a1a1a" stroke-width="0.22" letter-spacing="0.111">250</text>
<text transform="translate(416.31,321.65) scale(0.900,1)" font-family='"Liberation Sans", sans-serif' font-size="9.9" font-weight="normal" fill="#1a1a1a" stroke="#1a1a1a" stroke-width="0.22" letter-spacing="0.111">300</text>
<text transform="translate(441.94,321.65) scale(0.900,1)" font-family='"Liberation Sans", sans-serif' font-size="9.9" font-weight="normal" fill="#1a1a1a" stroke="#1a1a1a" stroke-width="0.22" letter-spacing="0.111">350</text>
<polyline points="270.00,284.24 271.68,284.36 273.37,284.19 275.05,284.26 276.73,284.21 278.42,283.81 280.10,283.71 281.78,284.14 283.47,283.72 285.15,283.64 286.83,284.03 288.52,283.65 290.20,283.80 290.40,199.10 291.42,200.62 292.44,201.34 293.46,202.86 294.48,203.99 295.50,204.43 296.52,205.33 297.54,205.85 298.56,205.75 299.58,206.88 300.60,207.10 301.62,207.14 302.64,207.16 303.66,208.24 304.68,208.07 305.70,208.50 306.72,208.82 307.74,208.80 308.76,209.13 309.78,208.71 310.80,209.20 311.40,210.50 311.40,284.60 311.60,284.83 313.30,284.34 315.00,284.35 316.70,284.38 318.40,284.81 320.10,284.48 321.80,284.58 323.50,284.36 325.20,284.47 326.90,284.38 328.60,284.34 330.30,284.47 332.00,284.45 332.20,206.70 333.21,207.76 334.22,208.77 335.23,209.36 336.24,210.06 337.25,210.24 338.26,210.16 339.27,211.23 340.28,211.66 341.29,211.88 342.30,211.79 343.31,212.14 344.32,211.82 345.33,212.60 346.34,212.48 347.35,212.31 348.36,212.19 349.37,213.07 350.38,213.29 351.39,212.45 352.40,213.22 352.80,213.60 352.80,284.60 353.00,284.48 354.72,284.76 356.43,284.82 358.15,284.33 359.87,284.67 361.58,284.33 363.30,284.73 365.02,284.50 366.73,284.83 368.45,284.89 370.17,284.60 371.88,284.90 373.60,284.49 373.80,211.70 374.81,212.32 375.82,212.20 376.83,212.77 377.84,213.34 378.85,213.86 379.86,213.68 380.87,213.81 381.88,214.85 382.89,214.49 383.90,215.30 384.91,215.38 385.92,215.00 386.93,215.19 387.94,215.36 388.95,215.57 389.96,215.60 390.97,215.63 391.98,215.76 392.99,216.13 394.00,215.75 394.30,216.30 394.30,284.80 394.60,284.64 396.30,284.66 398.00,285.05 399.70,284.76 401.40,284.76 403.10,284.42 404.80,284.65 406.50,284.73 408.20,284.38 409.90,284.72 411.60,284.71 413.30,284.35 415.00,284.68 415.10,213.30 416.14,213.82 417.17,213.79 418.21,214.41 419.24,214.69 420.28,214.19 421.31,214.42 422.35,215.21 423.38,215.65 424.42,215.07 425.45,215.40 426.49,215.65 427.52,215.48 428.56,215.61 429.59,215.64 430.62,215.76 431.66,216.05 432.69,215.82 433.73,215.94 434.76,216.38 435.80,215.68 436.10,216.60 436.10,284.00 436.40,283.85 438.05,283.81 439.71,284.30 441.36,283.87 443.02,283.86 444.67,284.08 446.33,284.32 447.98,283.87 449.64,284.08 451.29,284.11 452.95,284.54 454.60,284.25" fill="none" stroke="#f5333a" stroke-width="1.1" stroke-linejoin="round" stroke-linecap="round"/>
<rect x="382.30" y="177.80" width="72.30" height="12.40" fill="#ffffff"/>
<line x1="385.50" y1="184.40" x2="407.20" y2="184.40" stroke="#f5333a" stroke-width="1.25"/>
<text transform="translate(409.79,186.70) scale(0.880,1)" font-family='"Liberation Sans", sans-serif' font-size="10.2" font-weight="normal" fill="#1a1a1a" stroke="#1a1a1a" stroke-width="0.22" letter-spacing="0.565">on/off(-4)</text>
<rect x="270.05" y="175.20" width="184.55" height="135.00" fill="none" stroke="#111111" stroke-width="1.3"/>
<text transform="translate(344.67,334.60) scale(0.870,1)" font-family='"Liberation Sans", sans-serif' font-size="10.3" font-weight="normal" fill="#1a1a1a" stroke="#1a1a1a" stroke-width="0.22" letter-spacing="0.651">Time (s)</text>
<text transform="translate(246.80,277.31) rotate(-90) scale(0.870,1)" font-family='"Liberation Sans", sans-serif' font-size="10.8" fill="#1a1a1a" stroke="#1a1a1a" stroke-width="0.22" letter-spacing="0.401">Current (μA)</text>
<text x="233.34" y="181.70" font-family='"Liberation Sans", sans-serif' font-size="17.0" font-weight="bold" fill="#000">e</text>
<rect x="495.65" y="175.80" width="185.35" height="134.45" fill="#f7f7f7"/>
<rect x="515.20" y="175.80" width="21.50" height="134.45" fill="#fddeee"/>
<rect x="557.10" y="175.80" width="20.80" height="134.45" fill="#fddeee"/>
<rect x="598.80" y="175.80" width="20.10" height="134.45" fill="#fddeee"/>
<rect x="640.10" y="175.80" width="20.90" height="134.45" fill="#fddeee"/>
<line x1="492.45" y1="176.40" x2="495.65" y2="176.40" stroke="#111111" stroke-width="1.1"/>
<line x1="492.45" y1="193.13" x2="495.65" y2="193.13" stroke="#111111" stroke-width="1.1"/>
<line x1="492.45" y1="209.86" x2="495.65" y2="209.86" stroke="#111111" stroke-width="1.1"/>
<line x1="492.45" y1="226.59" x2="495.65" y2="226.59" stroke="#111111" stroke-width="1.1"/>
<line x1="492.45" y1="243.32" x2="495.65" y2="243.32" stroke="#111111" stroke-width="1.1"/>
<line x1="492.45" y1="260.06" x2="495.65" y2="260.06" stroke="#111111" stroke-width="1.1"/>
<line x1="492.45" y1="276.79" x2="495.65" y2="276.79" stroke="#111111" stroke-width="1.1"/>
<line x1="492.45" y1="293.52" x2="495.65" y2="293.52" stroke="#111111" stroke-width="1.1"/>
<line x1="492.45" y1="310.25" x2="495.65" y2="310.25" stroke="#111111" stroke-width="1.1"/>
<line x1="494.05" y1="184.77" x2="495.65" y2="184.77" stroke="#111111" stroke-width="1.0"/>
<line x1="494.05" y1="201.50" x2="495.65" y2="201.50" stroke="#111111" stroke-width="1.0"/>
<line x1="494.05" y1="218.23" x2="495.65" y2="218.23" stroke="#111111" stroke-width="1.0"/>
<line x1="494.05" y1="234.96" x2="495.65" y2="234.96" stroke="#111111" stroke-width="1.0"/>
<line x1="494.05" y1="251.69" x2="495.65" y2="251.69" stroke="#111111" stroke-width="1.0"/>
<line x1="494.05" y1="268.42" x2="495.65" y2="268.42" stroke="#111111" stroke-width="1.0"/>
<line x1="494.05" y1="285.15" x2="495.65" y2="285.15" stroke="#111111" stroke-width="1.0"/>
<line x1="494.05" y1="301.88" x2="495.65" y2="301.88" stroke="#111111" stroke-width="1.0"/>
<text transform="translate(469.75,179.61) scale(0.900,1)" font-family='"Liberation Sans", sans-serif' font-size="9.9" font-weight="normal" fill="#1a1a1a" stroke="#1a1a1a" stroke-width="0.22" letter-spacing="0.111">-0.04</text>
<text transform="translate(469.88,196.34) scale(0.900,1)" font-family='"Liberation Sans", sans-serif' font-size="9.9" font-weight="normal" fill="#1a1a1a" stroke="#1a1a1a" stroke-width="0.22" letter-spacing="0.111">-0.03</text>
<text transform="translate(469.94,213.07) scale(0.900,1)" font-family='"Liberation Sans", sans-serif' font-size="9.9" font-weight="normal" fill="#1a1a1a" stroke="#1a1a1a" stroke-width="0.22" letter-spacing="0.111">-0.02</text>
<text transform="translate(469.93,229.80) scale(0.900,1)" font-family='"Liberation Sans", sans-serif' font-size="9.9" font-weight="normal" fill="#1a1a1a" stroke="#1a1a1a" stroke-width="0.22" letter-spacing="0.111" mask="url(#m15)">-0.01</text>
<text transform="translate(472.91,246.53) scale(0.900,1)" font-family='"Liberation Sans", sans-serif' font-size="9.9" font-weight="normal" fill="#1a1a1a" stroke="#1a1a1a" stroke-width="0.22" letter-spacing="0.111">0.00</text>
<text transform="translate(472.99,263.26) scale(0.900,1)" font-family='"Liberation Sans", sans-serif' font-size="9.9" font-weight="normal" fill="#1a1a1a" stroke="#1a1a1a" stroke-width="0.22" letter-spacing="0.111" mask="url(#m16)">0.01</text>
<text transform="translate(473.01,279.99) scale(0.900,1)" font-family='"Liberation Sans", sans-serif' font-size="9.9" font-weight="normal" fill="#1a1a1a" stroke="#1a1a1a" stroke-width="0.22" letter-spacing="0.111">0.02</text>
<text transform="translate(472.95,296.72) scale(0.900,1)" font-family='"Liberation Sans", sans-serif' font-size="9.9" font-weight="normal" fill="#1a1a1a" stroke="#1a1a1a" stroke-width="0.22" letter-spacing="0.111">0.03</text>
<text transform="translate(472.82,313.46) scale(0.900,1)" font-family='"Liberation Sans", sans-serif' font-size="9.9" font-weight="normal" fill="#1a1a1a" stroke="#1a1a1a" stroke-width="0.22" letter-spacing="0.111">0.04</text>
<line x1="495.65" y1="310.25" x2="495.65" y2="312.85" stroke="#111111" stroke-width="1.1"/>
<line x1="521.39" y1="310.25" x2="521.39" y2="312.85" stroke="#111111" stroke-width="1.1"/>
<line x1="547.14" y1="310.25" x2="547.14" y2="312.85" stroke="#111111" stroke-width="1.1"/>
<line x1="572.88" y1="310.25" x2="572.88" y2="312.85" stroke="#111111" stroke-width="1.1"/>
<line x1="598.62" y1="310.25" x2="598.62" y2="312.85" stroke="#111111" stroke-width="1.1"/>
<line x1="624.37" y1="310.25" x2="624.37" y2="312.85" stroke="#111111" stroke-width="1.1"/>
<line x1="650.11" y1="310.25" x2="650.11" y2="312.85" stroke="#111111" stroke-width="1.1"/>
<line x1="675.85" y1="310.25" x2="675.85" y2="312.85" stroke="#111111" stroke-width="1.1"/>
<line x1="508.52" y1="310.25" x2="508.52" y2="311.85" stroke="#111111" stroke-width="1.0"/>
<line x1="534.26" y1="310.25" x2="534.26" y2="311.85" stroke="#111111" stroke-width="1.0"/>
<line x1="560.01" y1="310.25" x2="560.01" y2="311.85" stroke="#111111" stroke-width="1.0"/>
<line x1="585.75" y1="310.25" x2="585.75" y2="311.85" stroke="#111111" stroke-width="1.0"/>
<line x1="611.49" y1="310.25" x2="611.49" y2="311.85" stroke="#111111" stroke-width="1.0"/>
<line x1="637.24" y1="310.25" x2="637.24" y2="311.85" stroke="#111111" stroke-width="1.0"/>
<line x1="662.98" y1="310.25" x2="662.98" y2="311.85" stroke="#111111" stroke-width="1.0"/>
<text transform="translate(493.17,321.70) scale(0.900,1)" font-family='"Liberation Sans", sans-serif' font-size="9.9" font-weight="normal" fill="#1a1a1a" stroke="#1a1a1a" stroke-width="0.22" letter-spacing="0.111">0</text>
<text transform="translate(516.38,321.70) scale(0.900,1)" font-family='"Liberation Sans", sans-serif' font-size="9.9" font-weight="normal" fill="#1a1a1a" stroke="#1a1a1a" stroke-width="0.22" letter-spacing="0.111">50</text>
<text transform="translate(539.44,321.70) scale(0.900,1)" font-family='"Liberation Sans", sans-serif' font-size="9.9" font-weight="normal" fill="#1a1a1a" stroke="#1a1a1a" stroke-width="0.22" letter-spacing="0.111" mask="url(#m17)">100</text>
<text transform="translate(565.18,321.70) scale(0.900,1)" font-family='"Liberation Sans", sans-serif' font-size="9.9" font-weight="normal" fill="#1a1a1a" stroke="#1a1a1a" stroke-width="0.22" letter-spacing="0.111" mask="url(#m18)">150</text>
<text transform="translate(591.04,321.70) scale(0.900,1)" font-family='"Liberation Sans", sans-serif' font-size="9.9" font-weight="normal" fill="#1a1a1a" stroke="#1a1a1a" stroke-width="0.22" letter-spacing="0.111">200</text>
<text transform="translate(616.78,321.70) scale(0.900,1)" font-family='"Liberation Sans", sans-serif' font-size="9.9" font-weight="normal" fill="#1a1a1a" stroke="#1a1a1a" stroke-width="0.22" letter-spacing="0.111">250</text>
<text transform="translate(642.58,321.70) scale(0.900,1)" font-family='"Liberation Sans", sans-serif' font-size="9.9" font-weight="normal" fill="#1a1a1a" stroke="#1a1a1a" stroke-width="0.22" letter-spacing="0.111">300</text>
<text transform="translate(668.32,321.70) scale(0.900,1)" font-family='"Liberation Sans", sans-serif' font-size="9.9" font-weight="normal" fill="#1a1a1a" stroke="#1a1a1a" stroke-width="0.22" letter-spacing="0.111">350</text>
<polyline points="495.40,244.10 496.80,243.10 498.90,242.20 500.90,243.10 505.10,244.10 509.30,243.60 514.80,243.30 515.50,243.80 516.20,216.40 517.60,223.70 519.70,230.00 521.50,237.20 522.40,235.20 524.50,234.40 526.60,234.50 529.40,235.80 532.80,236.30 535.60,236.60 536.30,236.90 536.70,244.50 537.30,240.80 538.10,242.20 538.70,240.80 539.80,243.80 541.90,242.70 546.70,242.40 552.30,242.70 557.10,242.70 558.10,218.60 559.90,225.10 562.00,230.00 564.70,232.50 568.20,234.10 571.70,233.70 575.80,233.40 578.20,233.40 578.60,248.30 579.30,245.90 581.40,244.50 585.50,243.10 589.00,242.40 592.50,242.40 598.80,242.70 599.80,216.10 600.90,221.60 603.00,228.60 605.70,233.40 609.20,234.80 613.40,235.80 618.90,236.20 619.30,230.20 619.90,236.20 620.30,242.70 621.40,239.40 622.40,240.80 624.20,244.10 628.60,243.60 634.20,242.70 640.10,242.40 641.10,216.10 642.50,221.60 645.30,231.40 648.00,237.60 651.50,237.30 655.00,236.60 657.00,237.20 661.90,237.60 662.60,244.10 663.30,242.20 667.40,242.70 671.60,243.10 674.40,242.20 678.50,243.60 681.00,244.30" fill="none" stroke="#f5333a" stroke-width="1.1" stroke-linejoin="round" stroke-linecap="round"/>
<rect x="609.90" y="177.60" width="71.10" height="13.40" fill="#ffffff"/>
<line x1="613.00" y1="184.90" x2="634.70" y2="184.90" stroke="#f5333a" stroke-width="1.25"/>
<text transform="translate(637.19,187.50) scale(0.880,1)" font-family='"Liberation Sans", sans-serif' font-size="10.2" font-weight="normal" fill="#1a1a1a" stroke="#1a1a1a" stroke-width="0.22" letter-spacing="0.590">on/off(-4)</text>
<rect x="495.65" y="176.40" width="185.35" height="133.85" fill="none" stroke="#111111" stroke-width="1.3"/>
<text transform="translate(570.57,334.20) scale(0.870,1)" font-family='"Liberation Sans", sans-serif' font-size="10.3" font-weight="normal" fill="#1a1a1a" stroke="#1a1a1a" stroke-width="0.22" letter-spacing="0.618">Time (s)</text>
<text transform="translate(467.00,278.21) rotate(-90) scale(0.870,1)" font-family='"Liberation Sans", sans-serif' font-size="10.8" fill="#1a1a1a" stroke="#1a1a1a" stroke-width="0.22" letter-spacing="0.421">Current (nA)</text>
<text x="460.31" y="181.00" font-family='"Liberation Sans", sans-serif' font-size="17.0" font-weight="bold" fill="#000">f</text>
<rect x="41.80" y="341.90" width="185.40" height="135.60" fill="#f7f7f7"/>
<rect x="67.00" y="341.90" width="119.30" height="135.60" fill="#fddeee"/>
<line x1="38.60" y1="477.50" x2="41.80" y2="477.50" stroke="#111111" stroke-width="1.1"/>
<line x1="38.60" y1="447.65" x2="41.80" y2="447.65" stroke="#111111" stroke-width="1.1"/>
<line x1="38.60" y1="417.80" x2="41.80" y2="417.80" stroke="#111111" stroke-width="1.1"/>
<line x1="38.60" y1="387.95" x2="41.80" y2="387.95" stroke="#111111" stroke-width="1.1"/>
<line x1="38.60" y1="358.10" x2="41.80" y2="358.10" stroke="#111111" stroke-width="1.1"/>
<line x1="40.20" y1="462.57" x2="41.80" y2="462.57" stroke="#111111" stroke-width="1.0"/>
<line x1="40.20" y1="432.73" x2="41.80" y2="432.73" stroke="#111111" stroke-width="1.0"/>
<line x1="40.20" y1="402.88" x2="41.80" y2="402.88" stroke="#111111" stroke-width="1.0"/>
<line x1="40.20" y1="373.02" x2="41.80" y2="373.02" stroke="#111111" stroke-width="1.0"/>
<text transform="translate(19.14,480.71) scale(0.900,1)" font-family='"Liberation Sans", sans-serif' font-size="9.9" font-weight="normal" fill="#1a1a1a" stroke="#1a1a1a" stroke-width="0.22" letter-spacing="0.111" mask="url(#m19)">0.01</text>
<text transform="translate(19.06,450.86) scale(0.900,1)" font-family='"Liberation Sans", sans-serif' font-size="9.9" font-weight="normal" fill="#1a1a1a" stroke="#1a1a1a" stroke-width="0.22" letter-spacing="0.111">0.00</text>
<text transform="translate(16.08,421.01) scale(0.900,1)" font-family='"Liberation Sans", sans-serif' font-size="9.9" font-weight="normal" fill="#1a1a1a" stroke="#1a1a1a" stroke-width="0.22" letter-spacing="0.111" mask="url(#m20)">-0.01</text>
<text transform="translate(16.09,391.16) scale(0.900,1)" font-family='"Liberation Sans", sans-serif' font-size="9.9" font-weight="normal" fill="#1a1a1a" stroke="#1a1a1a" stroke-width="0.22" letter-spacing="0.111">-0.02</text>
<text transform="translate(16.03,361.31) scale(0.900,1)" font-family='"Liberation Sans", sans-serif' font-size="9.9" font-weight="normal" fill="#1a1a1a" stroke="#1a1a1a" stroke-width="0.22" letter-spacing="0.111">-0.03</text>
<line x1="41.80" y1="477.50" x2="41.80" y2="480.10" stroke="#111111" stroke-width="1.1"/>
<line x1="70.32" y1="477.50" x2="70.32" y2="480.10" stroke="#111111" stroke-width="1.1"/>
<line x1="98.85" y1="477.50" x2="98.85" y2="480.10" stroke="#111111" stroke-width="1.1"/>
<line x1="127.37" y1="477.50" x2="127.37" y2="480.10" stroke="#111111" stroke-width="1.1"/>
<line x1="155.89" y1="477.50" x2="155.89" y2="480.10" stroke="#111111" stroke-width="1.1"/>
<line x1="184.42" y1="477.50" x2="184.42" y2="480.10" stroke="#111111" stroke-width="1.1"/>
<line x1="212.94" y1="477.50" x2="212.94" y2="480.10" stroke="#111111" stroke-width="1.1"/>
<line x1="56.06" y1="477.50" x2="56.06" y2="479.10" stroke="#111111" stroke-width="1.0"/>
<line x1="84.58" y1="477.50" x2="84.58" y2="479.10" stroke="#111111" stroke-width="1.0"/>
<line x1="113.11" y1="477.50" x2="113.11" y2="479.10" stroke="#111111" stroke-width="1.0"/>
<line x1="141.63" y1="477.50" x2="141.63" y2="479.10" stroke="#111111" stroke-width="1.0"/>
<line x1="170.15" y1="477.50" x2="170.15" y2="479.10" stroke="#111111" stroke-width="1.0"/>
<line x1="198.68" y1="477.50" x2="198.68" y2="479.10" stroke="#111111" stroke-width="1.0"/>
<line x1="227.20" y1="477.50" x2="227.20" y2="479.10" stroke="#111111" stroke-width="1.0"/>
<text transform="translate(34.10,488.95) scale(0.900,1)" font-family='"Liberation Sans", sans-serif' font-size="9.9" font-weight="normal" fill="#1a1a1a" stroke="#1a1a1a" stroke-width="0.22" letter-spacing="0.111" mask="url(#m21)">190</text>
<text transform="translate(62.74,488.95) scale(0.900,1)" font-family='"Liberation Sans", sans-serif' font-size="9.9" font-weight="normal" fill="#1a1a1a" stroke="#1a1a1a" stroke-width="0.22" letter-spacing="0.111">200</text>
<text transform="translate(91.26,488.95) scale(0.900,1)" font-family='"Liberation Sans", sans-serif' font-size="9.9" font-weight="normal" fill="#1a1a1a" stroke="#1a1a1a" stroke-width="0.22" letter-spacing="0.111" mask="url(#m22)">210</text>
<text transform="translate(119.79,488.95) scale(0.900,1)" font-family='"Liberation Sans", sans-serif' font-size="9.9" font-weight="normal" fill="#1a1a1a" stroke="#1a1a1a" stroke-width="0.22" letter-spacing="0.111">220</text>
<text transform="translate(148.31,488.95) scale(0.900,1)" font-family='"Liberation Sans", sans-serif' font-size="9.9" font-weight="normal" fill="#1a1a1a" stroke="#1a1a1a" stroke-width="0.22" letter-spacing="0.111">230</text>
<text transform="translate(176.83,488.95) scale(0.900,1)" font-family='"Liberation Sans", sans-serif' font-size="9.9" font-weight="normal" fill="#1a1a1a" stroke="#1a1a1a" stroke-width="0.22" letter-spacing="0.111">240</text>
<text transform="translate(205.36,488.95) scale(0.900,1)" font-family='"Liberation Sans", sans-serif' font-size="9.9" font-weight="normal" fill="#1a1a1a" stroke="#1a1a1a" stroke-width="0.22" letter-spacing="0.111">250</text>
<polyline points="41.80,439.70 45.30,437.90 48.90,437.60 51.60,437.20 54.60,436.10 57.80,439.30 61.70,442.50 64.90,440.80 66.70,437.60 68.40,435.40 70.20,414.40 72.00,380.70 73.80,393.10 75.60,410.90 78.20,414.10 82.70,414.10 88.00,414.80 93.30,415.00 98.70,417.10 104.00,419.40 109.30,419.40 112.90,420.30 117.30,420.30 120.90,422.40 127.10,422.40 131.60,424.20 137.80,423.70 144.90,424.20 150.00,425.10 154.20,424.70 158.40,425.50 162.60,426.80 166.80,425.50 170.90,425.10 176.20,424.70 181.40,425.50 186.00,425.50 187.70,434.50 190.80,456.50 193.60,441.90 196.10,439.80 201.30,435.20 206.50,437.70 211.80,440.20 217.00,439.40 219.10,440.80 222.20,445.00 225.40,444.00 227.00,440.20" fill="none" stroke="#f5333a" stroke-width="1.1" stroke-linejoin="round" stroke-linecap="round"/>
<line x1="66.50" y1="374.30" x2="66.50" y2="477.50" stroke="#2c5aa0" stroke-width="1.4"/>
<line x1="72.50" y1="374.30" x2="72.50" y2="477.50" stroke="#2c5aa0" stroke-width="1.4"/>
<line x1="66.50" y1="377.80" x2="72.50" y2="377.80" stroke="#2c5aa0" stroke-width="1.0"/>
<path d="M66.50,377.80 l2.70,-1.5 v3.0 z M72.50,377.80 l-2.70,-1.5 v3.0 z" fill="#2c5aa0"/>
<line x1="186.70" y1="374.20" x2="186.70" y2="477.50" stroke="#62ad45" stroke-width="1.4"/>
<line x1="190.40" y1="374.20" x2="190.40" y2="477.50" stroke="#62ad45" stroke-width="1.4"/>
<line x1="186.70" y1="378.10" x2="190.40" y2="378.10" stroke="#62ad45" stroke-width="1.0"/>
<path d="M186.70,378.10 l1.55,-1.5 v3.0 z M190.40,378.10 l-1.55,-1.5 v3.0 z" fill="#62ad45"/>
<rect x="156.10" y="343.80" width="71.10" height="13.80" fill="#ffffff"/>
<line x1="159.00" y1="351.30" x2="180.90" y2="351.30" stroke="#f5333a" stroke-width="1.25"/>
<text transform="translate(182.99,353.80) scale(0.880,1)" font-family='"Liberation Sans", sans-serif' font-size="10.2" font-weight="normal" fill="#1a1a1a" stroke="#1a1a1a" stroke-width="0.22" letter-spacing="0.590">on/off(-4)</text>
<rect x="41.80" y="342.50" width="185.40" height="135.00" fill="none" stroke="#111111" stroke-width="1.3"/>
<text transform="translate(60.33,370.40) scale(0.880,1)" font-family='"Liberation Sans", sans-serif' font-size="11.0" font-weight="normal" fill="#1a1a1a" stroke="#1a1a1a" stroke-width="0.22" letter-spacing="0.790" mask="url(#m23)">1.21 s</text>
<text transform="translate(179.23,370.50) scale(0.880,1)" font-family='"Liberation Sans", sans-serif' font-size="11.0" font-weight="normal" fill="#1a1a1a" stroke="#1a1a1a" stroke-width="0.22" letter-spacing="0.836" mask="url(#m24)">1.21 s</text>
<text transform="translate(116.27,500.00) scale(0.870,1)" font-family='"Liberation Sans", sans-serif' font-size="10.3" font-weight="normal" fill="#1a1a1a" stroke="#1a1a1a" stroke-width="0.22" letter-spacing="0.717">Time (s)</text>
<text transform="translate(13.40,444.61) rotate(-90) scale(0.870,1)" font-family='"Liberation Sans", sans-serif' font-size="10.8" fill="#1a1a1a" stroke="#1a1a1a" stroke-width="0.22" letter-spacing="0.484">Current (nA)</text>
<text x="-0.07" y="349.20" font-family='"Liberation Sans", sans-serif' font-size="16.4" font-weight="bold" fill="#000">g</text>
<rect x="270.30" y="343.40" width="185.50" height="135.45" fill="#f7f7f7"/>
<rect x="301.50" y="343.40" width="115.10" height="135.45" fill="#fddeee"/>
<line x1="267.10" y1="344.00" x2="270.30" y2="344.00" stroke="#111111" stroke-width="1.1"/>
<line x1="267.10" y1="358.98" x2="270.30" y2="358.98" stroke="#111111" stroke-width="1.1"/>
<line x1="267.10" y1="373.97" x2="270.30" y2="373.97" stroke="#111111" stroke-width="1.1"/>
<line x1="267.10" y1="388.95" x2="270.30" y2="388.95" stroke="#111111" stroke-width="1.1"/>
<line x1="267.10" y1="403.93" x2="270.30" y2="403.93" stroke="#111111" stroke-width="1.1"/>
<line x1="267.10" y1="418.92" x2="270.30" y2="418.92" stroke="#111111" stroke-width="1.1"/>
<line x1="267.10" y1="433.90" x2="270.30" y2="433.90" stroke="#111111" stroke-width="1.1"/>
<line x1="267.10" y1="448.88" x2="270.30" y2="448.88" stroke="#111111" stroke-width="1.1"/>
<line x1="267.10" y1="463.87" x2="270.30" y2="463.87" stroke="#111111" stroke-width="1.1"/>
<line x1="267.10" y1="478.85" x2="270.30" y2="478.85" stroke="#111111" stroke-width="1.1"/>
<line x1="268.70" y1="351.49" x2="270.30" y2="351.49" stroke="#111111" stroke-width="1.0"/>
<line x1="268.70" y1="366.48" x2="270.30" y2="366.48" stroke="#111111" stroke-width="1.0"/>
<line x1="268.70" y1="381.46" x2="270.30" y2="381.46" stroke="#111111" stroke-width="1.0"/>
<line x1="268.70" y1="396.44" x2="270.30" y2="396.44" stroke="#111111" stroke-width="1.0"/>
<line x1="268.70" y1="411.43" x2="270.30" y2="411.43" stroke="#111111" stroke-width="1.0"/>
<line x1="268.70" y1="426.41" x2="270.30" y2="426.41" stroke="#111111" stroke-width="1.0"/>
<line x1="268.70" y1="441.39" x2="270.30" y2="441.39" stroke="#111111" stroke-width="1.0"/>
<line x1="268.70" y1="456.38" x2="270.30" y2="456.38" stroke="#111111" stroke-width="1.0"/>
<line x1="268.70" y1="471.36" x2="270.30" y2="471.36" stroke="#111111" stroke-width="1.0"/>
<text transform="translate(249.62,347.21) scale(0.900,1)" font-family='"Liberation Sans", sans-serif' font-size="9.9" font-weight="normal" fill="#1a1a1a" stroke="#1a1a1a" stroke-width="0.22" letter-spacing="0.111">-0.9</text>
<text transform="translate(249.58,362.19) scale(0.900,1)" font-family='"Liberation Sans", sans-serif' font-size="9.9" font-weight="normal" fill="#1a1a1a" stroke="#1a1a1a" stroke-width="0.22" letter-spacing="0.111">-0.8</text>
<text transform="translate(249.64,377.17) scale(0.900,1)" font-family='"Liberation Sans", sans-serif' font-size="9.9" font-weight="normal" fill="#1a1a1a" stroke="#1a1a1a" stroke-width="0.22" letter-spacing="0.111">-0.7</text>
<text transform="translate(249.59,392.16) scale(0.900,1)" font-family='"Liberation Sans", sans-serif' font-size="9.9" font-weight="normal" fill="#1a1a1a" stroke="#1a1a1a" stroke-width="0.22" letter-spacing="0.111">-0.6</text>
<text transform="translate(249.57,407.14) scale(0.900,1)" font-family='"Liberation Sans", sans-serif' font-size="9.9" font-weight="normal" fill="#1a1a1a" stroke="#1a1a1a" stroke-width="0.22" letter-spacing="0.111">-0.5</text>
<text transform="translate(249.46,422.12) scale(0.900,1)" font-family='"Liberation Sans", sans-serif' font-size="9.9" font-weight="normal" fill="#1a1a1a" stroke="#1a1a1a" stroke-width="0.22" letter-spacing="0.111">-0.4</text>
<text transform="translate(249.59,437.11) scale(0.900,1)" font-family='"Liberation Sans", sans-serif' font-size="9.9" font-weight="normal" fill="#1a1a1a" stroke="#1a1a1a" stroke-width="0.22" letter-spacing="0.111">-0.3</text>
<text transform="translate(249.64,452.09) scale(0.900,1)" font-family='"Liberation Sans", sans-serif' font-size="9.9" font-weight="normal" fill="#1a1a1a" stroke="#1a1a1a" stroke-width="0.22" letter-spacing="0.111">-0.2</text>
<text transform="translate(249.63,467.07) scale(0.900,1)" font-family='"Liberation Sans", sans-serif' font-size="9.9" font-weight="normal" fill="#1a1a1a" stroke="#1a1a1a" stroke-width="0.22" letter-spacing="0.111" mask="url(#m25)">-0.1</text>
<text transform="translate(252.61,482.06) scale(0.900,1)" font-family='"Liberation Sans", sans-serif' font-size="9.9" font-weight="normal" fill="#1a1a1a" stroke="#1a1a1a" stroke-width="0.22" letter-spacing="0.111">0.0</text>
<line x1="270.30" y1="478.85" x2="270.30" y2="481.45" stroke="#111111" stroke-width="1.1"/>
<line x1="298.84" y1="478.85" x2="298.84" y2="481.45" stroke="#111111" stroke-width="1.1"/>
<line x1="327.38" y1="478.85" x2="327.38" y2="481.45" stroke="#111111" stroke-width="1.1"/>
<line x1="355.92" y1="478.85" x2="355.92" y2="481.45" stroke="#111111" stroke-width="1.1"/>
<line x1="384.45" y1="478.85" x2="384.45" y2="481.45" stroke="#111111" stroke-width="1.1"/>
<line x1="412.99" y1="478.85" x2="412.99" y2="481.45" stroke="#111111" stroke-width="1.1"/>
<line x1="441.53" y1="478.85" x2="441.53" y2="481.45" stroke="#111111" stroke-width="1.1"/>
<line x1="284.57" y1="478.85" x2="284.57" y2="480.45" stroke="#111111" stroke-width="1.0"/>
<line x1="313.11" y1="478.85" x2="313.11" y2="480.45" stroke="#111111" stroke-width="1.0"/>
<line x1="341.65" y1="478.85" x2="341.65" y2="480.45" stroke="#111111" stroke-width="1.0"/>
<line x1="370.18" y1="478.85" x2="370.18" y2="480.45" stroke="#111111" stroke-width="1.0"/>
<line x1="398.72" y1="478.85" x2="398.72" y2="480.45" stroke="#111111" stroke-width="1.0"/>
<line x1="427.26" y1="478.85" x2="427.26" y2="480.45" stroke="#111111" stroke-width="1.0"/>
<line x1="455.80" y1="478.85" x2="455.80" y2="480.45" stroke="#111111" stroke-width="1.0"/>
<text transform="translate(262.60,490.30) scale(0.900,1)" font-family='"Liberation Sans", sans-serif' font-size="9.9" font-weight="normal" fill="#1a1a1a" stroke="#1a1a1a" stroke-width="0.22" letter-spacing="0.111" mask="url(#m26)">190</text>
<text transform="translate(291.26,490.30) scale(0.900,1)" font-family='"Liberation Sans", sans-serif' font-size="9.9" font-weight="normal" fill="#1a1a1a" stroke="#1a1a1a" stroke-width="0.22" letter-spacing="0.111">200</text>
<text transform="translate(319.79,490.30) scale(0.900,1)" font-family='"Liberation Sans", sans-serif' font-size="9.9" font-weight="normal" fill="#1a1a1a" stroke="#1a1a1a" stroke-width="0.22" letter-spacing="0.111" mask="url(#m27)">210</text>
<text transform="translate(348.33,490.30) scale(0.900,1)" font-family='"Liberation Sans", sans-serif' font-size="9.9" font-weight="normal" fill="#1a1a1a" stroke="#1a1a1a" stroke-width="0.22" letter-spacing="0.111">220</text>
<text transform="translate(376.87,490.30) scale(0.900,1)" font-family='"Liberation Sans", sans-serif' font-size="9.9" font-weight="normal" fill="#1a1a1a" stroke="#1a1a1a" stroke-width="0.22" letter-spacing="0.111">230</text>
<text transform="translate(405.41,490.30) scale(0.900,1)" font-family='"Liberation Sans", sans-serif' font-size="9.9" font-weight="normal" fill="#1a1a1a" stroke="#1a1a1a" stroke-width="0.22" letter-spacing="0.111">240</text>
<text transform="translate(433.95,490.30) scale(0.900,1)" font-family='"Liberation Sans", sans-serif' font-size="9.9" font-weight="normal" fill="#1a1a1a" stroke="#1a1a1a" stroke-width="0.22" letter-spacing="0.111">250</text>
<polyline points="270.30,452.20 283.70,452.90 301.20,452.90 303.30,452.90 303.60,380.50 305.22,380.74 306.84,380.97 308.46,381.16 310.08,381.41 311.70,381.39 313.37,381.61 315.04,380.97 316.71,381.39 318.39,381.84 320.06,381.68 321.73,381.95 323.40,381.39 325.07,381.83 326.74,381.81 328.41,382.21 330.09,382.39 331.76,382.10 333.43,382.42 335.10,382.62 336.77,383.20 338.44,383.16 340.11,382.74 341.79,383.32 343.46,382.87 345.13,383.32 346.80,383.00 348.46,382.83 350.11,383.45 351.77,382.85 353.43,382.79 355.09,383.33 356.74,383.17 358.40,382.63 360.07,383.41 361.74,383.32 363.41,383.67 365.09,383.54 366.76,384.37 368.43,384.41 370.10,384.87 371.74,384.95 373.38,384.62 375.02,384.81 376.66,384.79 378.30,384.92 379.94,384.99 381.58,385.32 383.22,385.70 384.86,385.36 386.50,386.04 388.06,385.64 389.61,385.48 391.17,385.75 392.72,385.35 394.28,385.09 395.83,385.08 397.39,385.13 398.94,384.48 400.50,385.08 402.06,384.32 403.61,384.90 405.17,384.98 406.72,384.31 408.28,384.93 409.83,384.59 411.39,384.76 412.94,384.31 414.50,384.34 417.30,385.64 419.20,452.90 420.72,453.02 422.25,452.49 423.77,452.88 425.30,453.00 426.82,453.01 428.35,452.59 429.88,452.60 431.40,452.72 432.93,452.89 434.45,452.43 435.98,452.87 437.50,452.91 439.02,452.95 440.55,452.38 442.07,453.01 443.60,452.41 445.12,452.59 446.65,452.78 448.18,452.99 449.70,452.59 451.23,453.00 452.75,452.73 454.28,452.57 455.80,452.57" fill="none" stroke="#f5333a" stroke-width="1.1" stroke-linejoin="round" stroke-linecap="round"/>
<line x1="301.30" y1="374.80" x2="301.30" y2="478.85" stroke="#2c5aa0" stroke-width="1.4"/>
<line x1="303.40" y1="374.80" x2="303.40" y2="478.85" stroke="#2c5aa0" stroke-width="1.4"/>
<path d="M301.30,376.60 l-1.40,-1.3 v2.6 z M303.40,376.60 l1.40,-1.3 v2.6 z" fill="#2c5aa0"/>
<line x1="301.30" y1="376.60" x2="303.40" y2="376.60" stroke="#2c5aa0" stroke-width="1.0"/>
<line x1="416.30" y1="374.80" x2="416.30" y2="478.85" stroke="#62ad45" stroke-width="1.4"/>
<line x1="418.60" y1="374.80" x2="418.60" y2="478.85" stroke="#62ad45" stroke-width="1.4"/>
<path d="M416.30,377.10 l-1.40,-1.3 v2.6 z M418.60,377.10 l1.40,-1.3 v2.6 z" fill="#62ad45"/>
<line x1="416.30" y1="377.10" x2="418.60" y2="377.10" stroke="#62ad45" stroke-width="1.0"/>
<rect x="383.10" y="345.00" width="72.70" height="14.00" fill="#ffffff"/>
<line x1="386.40" y1="353.10" x2="407.40" y2="353.10" stroke="#f5333a" stroke-width="1.25"/>
<text transform="translate(410.19,355.60) scale(0.880,1)" font-family='"Liberation Sans", sans-serif' font-size="10.2" font-weight="normal" fill="#1a1a1a" stroke="#1a1a1a" stroke-width="0.22" letter-spacing="0.641">on/off(-4)</text>
<rect x="270.30" y="344.00" width="185.50" height="134.85" fill="none" stroke="#111111" stroke-width="1.3"/>
<text transform="translate(295.49,370.30) scale(0.880,1)" font-family='"Liberation Sans", sans-serif' font-size="11.0" font-weight="normal" fill="#1a1a1a" stroke="#1a1a1a" stroke-width="0.22" letter-spacing="0.845">0.32 s</text>
<text transform="translate(411.59,371.30) scale(0.880,1)" font-family='"Liberation Sans", sans-serif' font-size="11.0" font-weight="normal" fill="#1a1a1a" stroke="#1a1a1a" stroke-width="0.22" letter-spacing="0.868">0.64 s</text>
<text transform="translate(345.17,503.00) scale(0.870,1)" font-family='"Liberation Sans", sans-serif' font-size="10.3" font-weight="normal" fill="#1a1a1a" stroke="#1a1a1a" stroke-width="0.22" letter-spacing="0.635">Time (s)</text>
<text transform="translate(244.40,446.31) rotate(-90) scale(0.870,1)" font-family='"Liberation Sans", sans-serif' font-size="10.8" fill="#1a1a1a" stroke="#1a1a1a" stroke-width="0.22" letter-spacing="0.453">Current (μA)</text>
<text x="232.41" y="349.50" font-family='"Liberation Sans", sans-serif' font-size="17.0" font-weight="bold" fill="#000">h</text>
<rect x="499.35" y="342.80" width="184.85" height="135.40" fill="#f7f7f7"/>
<rect x="528.70" y="342.80" width="113.50" height="135.40" fill="#fddeee"/>
<line x1="496.15" y1="354.00" x2="499.35" y2="354.00" stroke="#111111" stroke-width="1.1"/>
<line x1="496.15" y1="381.00" x2="499.35" y2="381.00" stroke="#111111" stroke-width="1.1"/>
<line x1="496.15" y1="408.00" x2="499.35" y2="408.00" stroke="#111111" stroke-width="1.1"/>
<line x1="496.15" y1="435.00" x2="499.35" y2="435.00" stroke="#111111" stroke-width="1.1"/>
<line x1="496.15" y1="462.00" x2="499.35" y2="462.00" stroke="#111111" stroke-width="1.1"/>
<line x1="497.75" y1="367.50" x2="499.35" y2="367.50" stroke="#111111" stroke-width="1.0"/>
<line x1="497.75" y1="394.50" x2="499.35" y2="394.50" stroke="#111111" stroke-width="1.0"/>
<line x1="497.75" y1="421.50" x2="499.35" y2="421.50" stroke="#111111" stroke-width="1.0"/>
<line x1="497.75" y1="448.50" x2="499.35" y2="448.50" stroke="#111111" stroke-width="1.0"/>
<line x1="497.75" y1="475.50" x2="499.35" y2="475.50" stroke="#111111" stroke-width="1.0"/>
<text transform="translate(468.48,357.21) scale(0.900,1)" font-family='"Liberation Sans", sans-serif' font-size="9.9" font-weight="normal" fill="#1a1a1a" stroke="#1a1a1a" stroke-width="0.22" letter-spacing="0.111">-0.020</text>
<text transform="translate(468.51,384.21) scale(0.900,1)" font-family='"Liberation Sans", sans-serif' font-size="9.9" font-weight="normal" fill="#1a1a1a" stroke="#1a1a1a" stroke-width="0.22" letter-spacing="0.111" mask="url(#m28)">-0.015</text>
<text transform="translate(468.48,411.21) scale(0.900,1)" font-family='"Liberation Sans", sans-serif' font-size="9.9" font-weight="normal" fill="#1a1a1a" stroke="#1a1a1a" stroke-width="0.22" letter-spacing="0.111" mask="url(#m29)">-0.010</text>
<text transform="translate(468.51,438.21) scale(0.900,1)" font-family='"Liberation Sans", sans-serif' font-size="9.9" font-weight="normal" fill="#1a1a1a" stroke="#1a1a1a" stroke-width="0.22" letter-spacing="0.111">-0.005</text>
<text transform="translate(471.55,465.21) scale(0.900,1)" font-family='"Liberation Sans", sans-serif' font-size="9.9" font-weight="normal" fill="#1a1a1a" stroke="#1a1a1a" stroke-width="0.22" letter-spacing="0.111">0.000</text>
<line x1="499.35" y1="478.20" x2="499.35" y2="480.80" stroke="#111111" stroke-width="1.1"/>
<line x1="527.79" y1="478.20" x2="527.79" y2="480.80" stroke="#111111" stroke-width="1.1"/>
<line x1="556.23" y1="478.20" x2="556.23" y2="480.80" stroke="#111111" stroke-width="1.1"/>
<line x1="584.67" y1="478.20" x2="584.67" y2="480.80" stroke="#111111" stroke-width="1.1"/>
<line x1="613.10" y1="478.20" x2="613.10" y2="480.80" stroke="#111111" stroke-width="1.1"/>
<line x1="641.54" y1="478.20" x2="641.54" y2="480.80" stroke="#111111" stroke-width="1.1"/>
<line x1="669.98" y1="478.20" x2="669.98" y2="480.80" stroke="#111111" stroke-width="1.1"/>
<line x1="513.57" y1="478.20" x2="513.57" y2="479.80" stroke="#111111" stroke-width="1.0"/>
<line x1="542.01" y1="478.20" x2="542.01" y2="479.80" stroke="#111111" stroke-width="1.0"/>
<line x1="570.45" y1="478.20" x2="570.45" y2="479.80" stroke="#111111" stroke-width="1.0"/>
<line x1="598.88" y1="478.20" x2="598.88" y2="479.80" stroke="#111111" stroke-width="1.0"/>
<line x1="627.32" y1="478.20" x2="627.32" y2="479.80" stroke="#111111" stroke-width="1.0"/>
<line x1="655.76" y1="478.20" x2="655.76" y2="479.80" stroke="#111111" stroke-width="1.0"/>
<line x1="684.20" y1="478.20" x2="684.20" y2="479.80" stroke="#111111" stroke-width="1.0"/>
<text transform="translate(491.65,489.65) scale(0.900,1)" font-family='"Liberation Sans", sans-serif' font-size="9.9" font-weight="normal" fill="#1a1a1a" stroke="#1a1a1a" stroke-width="0.22" letter-spacing="0.111" mask="url(#m30)">190</text>
<text transform="translate(520.21,489.65) scale(0.900,1)" font-family='"Liberation Sans", sans-serif' font-size="9.9" font-weight="normal" fill="#1a1a1a" stroke="#1a1a1a" stroke-width="0.22" letter-spacing="0.111">200</text>
<text transform="translate(548.64,489.65) scale(0.900,1)" font-family='"Liberation Sans", sans-serif' font-size="9.9" font-weight="normal" fill="#1a1a1a" stroke="#1a1a1a" stroke-width="0.22" letter-spacing="0.111" mask="url(#m31)">210</text>
<text transform="translate(577.08,489.65) scale(0.900,1)" font-family='"Liberation Sans", sans-serif' font-size="9.9" font-weight="normal" fill="#1a1a1a" stroke="#1a1a1a" stroke-width="0.22" letter-spacing="0.111">220</text>
<text transform="translate(605.52,489.65) scale(0.900,1)" font-family='"Liberation Sans", sans-serif' font-size="9.9" font-weight="normal" fill="#1a1a1a" stroke="#1a1a1a" stroke-width="0.22" letter-spacing="0.111">230</text>
<text transform="translate(633.96,489.65) scale(0.900,1)" font-family='"Liberation Sans", sans-serif' font-size="9.9" font-weight="normal" fill="#1a1a1a" stroke="#1a1a1a" stroke-width="0.22" letter-spacing="0.111">240</text>
<text transform="translate(662.40,489.65) scale(0.900,1)" font-family='"Liberation Sans", sans-serif' font-size="9.9" font-weight="normal" fill="#1a1a1a" stroke="#1a1a1a" stroke-width="0.22" letter-spacing="0.111">250</text>
<polyline points="499.30,461.30 510.00,461.00 520.00,461.10 528.70,461.30 529.80,447.00 532.40,395.00 533.90,377.20 535.60,383.50 538.50,394.80 541.70,402.40 546.10,409.60 551.50,416.10 557.00,420.90 560.90,423.50 563.50,428.50 565.70,430.00 572.20,431.30 578.70,433.50 587.40,435.70 598.30,437.20 611.30,438.30 624.30,439.30 630.00,439.80 636.30,440.30 641.10,439.20 642.60,428.40 644.20,420.50 645.80,433.20 648.20,459.30 649.80,450.60 651.30,449.00 654.50,450.60 659.20,455.30 664.00,460.90 668.70,464.50 675.80,463.50 682.20,464.00 684.20,463.70" fill="none" stroke="#f5333a" stroke-width="1.1" stroke-linejoin="round" stroke-linecap="round"/>
<line x1="528.50" y1="370.40" x2="528.50" y2="478.20" stroke="#2c5aa0" stroke-width="1.4"/>
<line x1="533.00" y1="370.40" x2="533.00" y2="478.20" stroke="#2c5aa0" stroke-width="1.4"/>
<line x1="528.50" y1="376.80" x2="533.00" y2="376.80" stroke="#2c5aa0" stroke-width="1.0"/>
<path d="M528.50,376.80 l1.95,-1.5 v3.0 z M533.00,376.80 l-1.95,-1.5 v3.0 z" fill="#2c5aa0"/>
<line x1="642.70" y1="370.20" x2="642.70" y2="478.20" stroke="#62ad45" stroke-width="1.4"/>
<line x1="647.60" y1="370.20" x2="647.60" y2="478.20" stroke="#62ad45" stroke-width="1.4"/>
<line x1="642.70" y1="376.20" x2="647.60" y2="376.20" stroke="#62ad45" stroke-width="1.0"/>
<path d="M642.70,376.20 l2.15,-1.5 v3.0 z M647.60,376.20 l-2.15,-1.5 v3.0 z" fill="#62ad45"/>
<rect x="612.90" y="344.70" width="71.30" height="12.80" fill="#ffffff"/>
<line x1="616.20" y1="352.40" x2="637.80" y2="352.40" stroke="#f5333a" stroke-width="1.25"/>
<text transform="translate(639.79,354.60) scale(0.880,1)" font-family='"Liberation Sans", sans-serif' font-size="10.2" font-weight="normal" fill="#1a1a1a" stroke="#1a1a1a" stroke-width="0.22" letter-spacing="0.628">on/off(-4)</text>
<rect x="499.35" y="343.40" width="184.85" height="134.80" fill="none" stroke="#111111" stroke-width="1.3"/>
<text transform="translate(520.53,367.70) scale(0.880,1)" font-family='"Liberation Sans", sans-serif' font-size="11.0" font-weight="normal" fill="#1a1a1a" stroke="#1a1a1a" stroke-width="0.22" letter-spacing="0.904" mask="url(#m32)">1.22 s</text>
<text transform="translate(639.83,367.80) scale(0.880,1)" font-family='"Liberation Sans", sans-serif' font-size="11.0" font-weight="normal" fill="#1a1a1a" stroke="#1a1a1a" stroke-width="0.22" letter-spacing="0.699" mask="url(#m33)">1.22 s</text>
<text transform="translate(574.57,502.70) scale(0.870,1)" font-family='"Liberation Sans", sans-serif' font-size="10.3" font-weight="normal" fill="#1a1a1a" stroke="#1a1a1a" stroke-width="0.22" letter-spacing="0.487">Time (s)</text>
<text transform="translate(465.70,445.81) rotate(-90) scale(0.870,1)" font-family='"Liberation Sans", sans-serif' font-size="10.8" fill="#1a1a1a" stroke="#1a1a1a" stroke-width="0.22" letter-spacing="0.421">Current (nA)</text>
<text x="460.51" y="352.10" font-family='"Liberation Sans", sans-serif' font-size="17.0" font-weight="bold" fill="#000">i</text>
</svg>
</body></html>
